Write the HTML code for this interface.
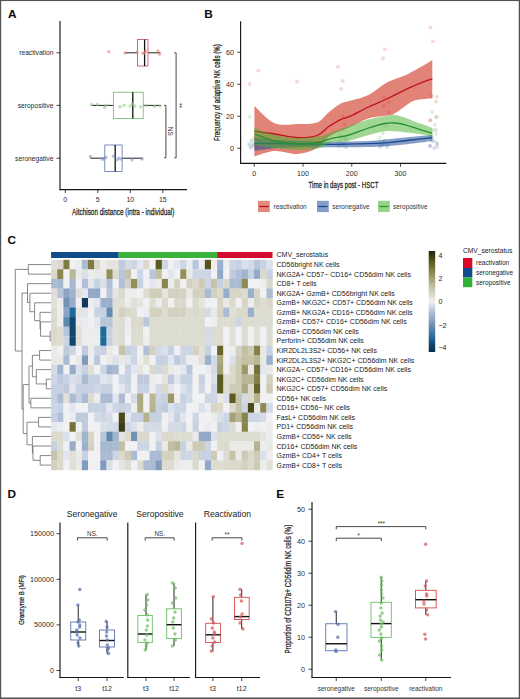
<!DOCTYPE html><html><head><meta charset="utf-8"><style>html,body{margin:0;padding:0;background:#fff}svg{display:block}text{font-family:"Liberation Sans", sans-serif}</style></head><body>
<svg width="520" height="699" viewBox="0 0 520 699">
<rect x="0" y="0" width="520" height="699" fill="#ffffff"/>
<text x="8.00" y="17.60" font-size="11.8" text-anchor="start" fill="#0a0a0a" font-weight="bold" >A</text>
<text x="204.20" y="17.60" font-size="11.8" text-anchor="start" fill="#0a0a0a" font-weight="bold" >B</text>
<text x="7.50" y="244.00" font-size="11.8" text-anchor="start" fill="#0a0a0a" font-weight="bold" >C</text>
<text x="7.50" y="498.00" font-size="11.8" text-anchor="start" fill="#0a0a0a" font-weight="bold" >D</text>
<text x="276.20" y="498.00" font-size="11.8" text-anchor="start" fill="#0a0a0a" font-weight="bold" >E</text>
<line x1="60" y1="21" x2="60" y2="190.1" stroke="#151515" stroke-width="1.15"/>
<line x1="59.5" y1="189.6" x2="187" y2="189.6" stroke="#151515" stroke-width="1.15"/>
<line x1="56.5" y1="52.8" x2="60" y2="52.8" stroke="#151515" stroke-width="0.8"/>
<text transform="translate(53.40,52.80)" x="0" y="2.38" font-size="6.7" text-anchor="end" fill="#2a2a2a" font-weight="normal">reactivation</text>
<line x1="56.5" y1="105.4" x2="60" y2="105.4" stroke="#151515" stroke-width="0.8"/>
<text transform="translate(53.40,105.40)" x="0" y="2.38" font-size="6.7" text-anchor="end" fill="#2a2a2a" font-weight="normal">seropositive</text>
<line x1="56.5" y1="158.2" x2="60" y2="158.2" stroke="#151515" stroke-width="0.8"/>
<text transform="translate(53.40,158.20)" x="0" y="2.38" font-size="6.7" text-anchor="end" fill="#2a2a2a" font-weight="normal">seronegative</text>
<line x1="65.30" y1="189.6" x2="65.30" y2="193" stroke="#151515" stroke-width="0.8"/>
<text transform="translate(65.30,199.70)" x="0" y="2.48" font-size="7.0" text-anchor="middle" fill="#2a2a2a" font-weight="normal">0</text>
<line x1="97.80" y1="189.6" x2="97.80" y2="193" stroke="#151515" stroke-width="0.8"/>
<text transform="translate(97.80,199.70)" x="0" y="2.48" font-size="7.0" text-anchor="middle" fill="#2a2a2a" font-weight="normal">5</text>
<line x1="130.30" y1="189.6" x2="130.30" y2="193" stroke="#151515" stroke-width="0.8"/>
<text transform="translate(130.30,199.70)" x="0" y="2.48" font-size="7.0" text-anchor="middle" fill="#2a2a2a" font-weight="normal">10</text>
<line x1="162.80" y1="189.6" x2="162.80" y2="193" stroke="#151515" stroke-width="0.8"/>
<text transform="translate(162.80,199.70)" x="0" y="2.48" font-size="7.0" text-anchor="middle" fill="#2a2a2a" font-weight="normal">15</text>
<text stroke="#1e1e1e" stroke-width="0.25" transform="translate(123.20,211.80) scale(0.7122,1)" x="0" y="3.19" font-size="9" text-anchor="middle" fill="#1e1e1e" font-weight="normal">Aitchison distance (intra - individual)</text>
<line x1="125" y1="52.8" x2="137.4" y2="52.8" stroke="#222" stroke-width="1"/>
<line x1="148" y1="52.8" x2="160.5" y2="52.8" stroke="#222" stroke-width="1"/>
<rect x="137.4" y="39.60" width="10.60" height="26.40" fill="none" stroke="#c8415a" stroke-width="0.8"/>
<line x1="144.6" y1="39.60" x2="144.6" y2="66.00" stroke="#111" stroke-width="1.3"/>
<circle cx="108.8" cy="51.75" r="1.7" fill="#e8857a" fill-opacity="0.6"/>
<circle cx="125" cy="52.98" r="1.7" fill="#e8857a" fill-opacity="0.6"/>
<circle cx="137" cy="52.28" r="1.7" fill="#e8857a" fill-opacity="0.6"/>
<circle cx="143" cy="53.22" r="1.7" fill="#e8857a" fill-opacity="0.6"/>
<circle cx="144.5" cy="53.30" r="1.7" fill="#e8857a" fill-opacity="0.6"/>
<circle cx="146" cy="51.06" r="1.7" fill="#e8857a" fill-opacity="0.6"/>
<circle cx="158" cy="50.85" r="1.7" fill="#e8857a" fill-opacity="0.6"/>
<circle cx="159.5" cy="54.15" r="1.7" fill="#e8857a" fill-opacity="0.6"/>
<line x1="91.2" y1="105.4" x2="113.5" y2="105.4" stroke="#222" stroke-width="1"/>
<line x1="143.2" y1="105.4" x2="161.0" y2="105.4" stroke="#222" stroke-width="1"/>
<rect x="113.5" y="92.20" width="29.70" height="26.40" fill="none" stroke="#6abf62" stroke-width="0.8"/>
<line x1="132.8" y1="92.20" x2="132.8" y2="118.60" stroke="#111" stroke-width="1.3"/>
<circle cx="91.5" cy="104.44" r="1.7" fill="#8fd07f" fill-opacity="0.6"/>
<circle cx="97.3" cy="104.34" r="1.7" fill="#8fd07f" fill-opacity="0.6"/>
<circle cx="104.6" cy="107.38" r="1.7" fill="#8fd07f" fill-opacity="0.6"/>
<circle cx="106" cy="105.28" r="1.7" fill="#8fd07f" fill-opacity="0.6"/>
<circle cx="120" cy="106.75" r="1.7" fill="#8fd07f" fill-opacity="0.6"/>
<circle cx="124" cy="105.31" r="1.7" fill="#8fd07f" fill-opacity="0.6"/>
<circle cx="130" cy="105.96" r="1.7" fill="#8fd07f" fill-opacity="0.6"/>
<circle cx="132.4" cy="104.00" r="1.7" fill="#8fd07f" fill-opacity="0.6"/>
<circle cx="134.8" cy="105.94" r="1.7" fill="#8fd07f" fill-opacity="0.6"/>
<circle cx="140.5" cy="106.87" r="1.7" fill="#8fd07f" fill-opacity="0.6"/>
<circle cx="146.3" cy="105.49" r="1.7" fill="#8fd07f" fill-opacity="0.6"/>
<circle cx="154.4" cy="106.37" r="1.7" fill="#8fd07f" fill-opacity="0.6"/>
<circle cx="160.2" cy="106.09" r="1.7" fill="#8fd07f" fill-opacity="0.6"/>
<line x1="90.4" y1="158.2" x2="104.8" y2="158.2" stroke="#222" stroke-width="1"/>
<line x1="122.1" y1="158.2" x2="142.9" y2="158.2" stroke="#222" stroke-width="1"/>
<rect x="104.8" y="145.00" width="17.30" height="26.40" fill="none" stroke="#5a74ad" stroke-width="0.8"/>
<line x1="115.2" y1="145.00" x2="115.2" y2="171.40" stroke="#111" stroke-width="1.3"/>
<circle cx="90.5" cy="156.46" r="1.7" fill="#8393c4" fill-opacity="0.6"/>
<circle cx="102.5" cy="159.23" r="1.7" fill="#8393c4" fill-opacity="0.6"/>
<circle cx="104" cy="158.56" r="1.7" fill="#8393c4" fill-opacity="0.6"/>
<circle cx="106" cy="157.41" r="1.7" fill="#8393c4" fill-opacity="0.6"/>
<circle cx="113.5" cy="156.32" r="1.7" fill="#8393c4" fill-opacity="0.6"/>
<circle cx="117" cy="159.66" r="1.7" fill="#8393c4" fill-opacity="0.6"/>
<circle cx="119" cy="158.09" r="1.7" fill="#8393c4" fill-opacity="0.6"/>
<circle cx="121" cy="159.08" r="1.7" fill="#8393c4" fill-opacity="0.6"/>
<circle cx="132" cy="159.72" r="1.7" fill="#8393c4" fill-opacity="0.6"/>
<circle cx="142" cy="159.06" r="1.7" fill="#8393c4" fill-opacity="0.6"/>
<path d="M174.4,52.8 H176.1 V157.8 H174.4" fill="none" stroke="#333" stroke-width="0.9"/>
<path d="M164.1,105.4 H165.9 V157.8 H164.1" fill="none" stroke="#333" stroke-width="0.9"/>
<text transform="translate(179.80,105.60) rotate(90)" x="0" y="2.31" font-size="6.5" text-anchor="middle" fill="#333" font-weight="normal">**</text>
<text transform="translate(170.30,131.20) rotate(90)" x="0" y="2.31" font-size="6.5" text-anchor="middle" fill="#333" font-weight="normal">NS</text>
<line x1="240.6" y1="21.3" x2="240.6" y2="163.8" stroke="#151515" stroke-width="1.15"/>
<line x1="240.1" y1="163.3" x2="446.3" y2="163.3" stroke="#151515" stroke-width="1.15"/>
<line x1="237.2" y1="148.25" x2="240.6" y2="148.25" stroke="#151515" stroke-width="0.8"/>
<text transform="translate(234.00,148.25)" x="0" y="2.52" font-size="7.1" text-anchor="end" fill="#2a2a2a" font-weight="normal">0</text>
<line x1="237.2" y1="116.25" x2="240.6" y2="116.25" stroke="#151515" stroke-width="0.8"/>
<text transform="translate(234.00,116.25)" x="0" y="2.52" font-size="7.1" text-anchor="end" fill="#2a2a2a" font-weight="normal">20</text>
<line x1="237.2" y1="84.25" x2="240.6" y2="84.25" stroke="#151515" stroke-width="0.8"/>
<text transform="translate(234.00,84.25)" x="0" y="2.52" font-size="7.1" text-anchor="end" fill="#2a2a2a" font-weight="normal">40</text>
<line x1="237.2" y1="52.25" x2="240.6" y2="52.25" stroke="#151515" stroke-width="0.8"/>
<text transform="translate(234.00,52.25)" x="0" y="2.52" font-size="7.1" text-anchor="end" fill="#2a2a2a" font-weight="normal">60</text>
<line x1="254.25" y1="163.3" x2="254.25" y2="166.7" stroke="#151515" stroke-width="0.8"/>
<text transform="translate(254.25,173.40)" x="0" y="2.52" font-size="7.1" text-anchor="middle" fill="#2a2a2a" font-weight="normal">0</text>
<line x1="303.00" y1="163.3" x2="303.00" y2="166.7" stroke="#151515" stroke-width="0.8"/>
<text transform="translate(303.00,173.40)" x="0" y="2.52" font-size="7.1" text-anchor="middle" fill="#2a2a2a" font-weight="normal">100</text>
<line x1="351.75" y1="163.3" x2="351.75" y2="166.7" stroke="#151515" stroke-width="0.8"/>
<text transform="translate(351.75,173.40)" x="0" y="2.52" font-size="7.1" text-anchor="middle" fill="#2a2a2a" font-weight="normal">200</text>
<line x1="400.50" y1="163.3" x2="400.50" y2="166.7" stroke="#151515" stroke-width="0.8"/>
<text transform="translate(400.50,173.40)" x="0" y="2.52" font-size="7.1" text-anchor="middle" fill="#2a2a2a" font-weight="normal">300</text>
<text stroke="#1e1e1e" stroke-width="0.25" transform="translate(343.50,185.10) scale(0.6817,1)" x="0" y="3.19" font-size="9" text-anchor="middle" fill="#1e1e1e" font-weight="normal">Time in days post - HSCT</text>
<text stroke="#1e1e1e" stroke-width="0.25" transform="translate(217.10,92.60) rotate(-90) scale(0.6877,1)" x="0" y="3.19" font-size="9" text-anchor="middle" fill="#1e1e1e" font-weight="normal">Frequency of adaptive NK cells (%)</text>
<circle cx="258.3" cy="70.6" r="1.9" fill="#d9605a" fill-opacity="0.25"/>
<circle cx="249.6" cy="84" r="1.9" fill="#d9605a" fill-opacity="0.25"/>
<circle cx="297" cy="81.5" r="1.9" fill="#d9605a" fill-opacity="0.25"/>
<circle cx="338" cy="66.7" r="1.9" fill="#d9605a" fill-opacity="0.25"/>
<circle cx="342.8" cy="81" r="1.9" fill="#d9605a" fill-opacity="0.25"/>
<circle cx="341" cy="88.8" r="1.9" fill="#d9605a" fill-opacity="0.25"/>
<circle cx="384.8" cy="49.3" r="1.9" fill="#d9605a" fill-opacity="0.25"/>
<circle cx="383" cy="58.5" r="1.9" fill="#d9605a" fill-opacity="0.25"/>
<circle cx="430.5" cy="27.4" r="1.9" fill="#d9605a" fill-opacity="0.25"/>
<circle cx="433" cy="41.3" r="1.9" fill="#d9605a" fill-opacity="0.25"/>
<circle cx="437" cy="96.8" r="1.9" fill="#d9605a" fill-opacity="0.25"/>
<circle cx="436" cy="101.6" r="1.9" fill="#d9605a" fill-opacity="0.25"/>
<circle cx="388.5" cy="102.3" r="1.9" fill="#d9605a" fill-opacity="0.25"/>
<circle cx="383.7" cy="106" r="1.9" fill="#d9605a" fill-opacity="0.25"/>
<circle cx="344.6" cy="124.2" r="1.9" fill="#d9605a" fill-opacity="0.25"/>
<circle cx="343" cy="129.7" r="1.9" fill="#d9605a" fill-opacity="0.25"/>
<circle cx="430.5" cy="120.6" r="1.9" fill="#d9605a" fill-opacity="0.25"/>
<circle cx="436" cy="117" r="1.9" fill="#d9605a" fill-opacity="0.25"/>
<circle cx="432" cy="96" r="1.9" fill="#d9605a" fill-opacity="0.25"/>
<circle cx="296" cy="137" r="1.9" fill="#d9605a" fill-opacity="0.25"/>
<circle cx="343" cy="116" r="1.9" fill="#d9605a" fill-opacity="0.25"/>
<circle cx="389" cy="112" r="1.9" fill="#d9605a" fill-opacity="0.25"/>
<circle cx="384" cy="97" r="1.9" fill="#d9605a" fill-opacity="0.25"/>
<circle cx="249.6" cy="116.7" r="1.9" fill="#78c070" fill-opacity="0.25"/>
<circle cx="252" cy="140" r="1.9" fill="#78c070" fill-opacity="0.25"/>
<circle cx="256" cy="143" r="1.9" fill="#78c070" fill-opacity="0.25"/>
<circle cx="250" cy="146" r="1.9" fill="#78c070" fill-opacity="0.25"/>
<circle cx="340" cy="135" r="1.9" fill="#78c070" fill-opacity="0.25"/>
<circle cx="345" cy="139" r="1.9" fill="#78c070" fill-opacity="0.25"/>
<circle cx="338" cy="142" r="1.9" fill="#78c070" fill-opacity="0.25"/>
<circle cx="386" cy="126" r="1.9" fill="#78c070" fill-opacity="0.25"/>
<circle cx="383" cy="133" r="1.9" fill="#78c070" fill-opacity="0.25"/>
<circle cx="380" cy="138" r="1.9" fill="#78c070" fill-opacity="0.25"/>
<circle cx="433" cy="130" r="1.9" fill="#78c070" fill-opacity="0.25"/>
<circle cx="436" cy="134" r="1.9" fill="#78c070" fill-opacity="0.25"/>
<circle cx="430" cy="138" r="1.9" fill="#78c070" fill-opacity="0.25"/>
<circle cx="437" cy="143" r="1.9" fill="#78c070" fill-opacity="0.25"/>
<circle cx="384" cy="145" r="1.9" fill="#78c070" fill-opacity="0.25"/>
<circle cx="343" cy="146" r="1.9" fill="#78c070" fill-opacity="0.25"/>
<circle cx="255" cy="137" r="1.9" fill="#78c070" fill-opacity="0.25"/>
<circle cx="435" cy="125" r="1.9" fill="#78c070" fill-opacity="0.25"/>
<circle cx="432" cy="112" r="1.9" fill="#78c070" fill-opacity="0.25"/>
<circle cx="253" cy="144" r="1.9" fill="#6680b0" fill-opacity="0.25"/>
<circle cx="251" cy="148" r="1.9" fill="#6680b0" fill-opacity="0.25"/>
<circle cx="256" cy="146.5" r="1.9" fill="#6680b0" fill-opacity="0.25"/>
<circle cx="342" cy="144" r="1.9" fill="#6680b0" fill-opacity="0.25"/>
<circle cx="339" cy="146" r="1.9" fill="#6680b0" fill-opacity="0.25"/>
<circle cx="346" cy="147" r="1.9" fill="#6680b0" fill-opacity="0.25"/>
<circle cx="382" cy="145" r="1.9" fill="#6680b0" fill-opacity="0.25"/>
<circle cx="387" cy="147" r="1.9" fill="#6680b0" fill-opacity="0.25"/>
<circle cx="380" cy="144" r="1.9" fill="#6680b0" fill-opacity="0.25"/>
<circle cx="432" cy="141" r="1.9" fill="#6680b0" fill-opacity="0.25"/>
<circle cx="437" cy="144" r="1.9" fill="#6680b0" fill-opacity="0.25"/>
<circle cx="430" cy="146" r="1.9" fill="#6680b0" fill-opacity="0.25"/>
<circle cx="434" cy="148" r="1.9" fill="#6680b0" fill-opacity="0.25"/>
<circle cx="300" cy="143" r="1.9" fill="#6680b0" fill-opacity="0.25"/>
<circle cx="436" cy="130" r="1.9" fill="#6680b0" fill-opacity="0.25"/>
<circle cx="437" cy="117" r="1.9" fill="#78c070" fill-opacity="0.25"/>
<circle cx="430" cy="120" r="1.9" fill="#d9605a" fill-opacity="0.25"/>
<circle cx="432" cy="137" r="1.9" fill="#6680b0" fill-opacity="0.25"/>
<circle cx="434" cy="141" r="1.9" fill="#6680b0" fill-opacity="0.25"/>
<circle cx="430" cy="146" r="1.9" fill="#6680b0" fill-opacity="0.25"/>
<circle cx="437" cy="147" r="1.9" fill="#6680b0" fill-opacity="0.25"/>
<circle cx="251" cy="141" r="1.9" fill="#78c070" fill-opacity="0.25"/>
<circle cx="253" cy="146" r="1.9" fill="#6680b0" fill-opacity="0.25"/>
<circle cx="255" cy="139" r="1.9" fill="#78c070" fill-opacity="0.25"/>
<circle cx="249" cy="144" r="1.9" fill="#6680b0" fill-opacity="0.25"/>
<circle cx="341" cy="141" r="1.9" fill="#6680b0" fill-opacity="0.25"/>
<circle cx="345" cy="143" r="1.9" fill="#6680b0" fill-opacity="0.25"/>
<circle cx="347" cy="140" r="1.9" fill="#78c070" fill-opacity="0.25"/>
<circle cx="384" cy="141" r="1.9" fill="#6680b0" fill-opacity="0.25"/>
<circle cx="388" cy="145" r="1.9" fill="#6680b0" fill-opacity="0.25"/>
<circle cx="380" cy="147" r="1.9" fill="#6680b0" fill-opacity="0.25"/>
<path d="M254.40,106.00 C257.77,108.87 267.38,120.20 274.60,123.20 C281.82,126.20 290.63,124.12 297.70,124.00 C304.77,123.88 311.95,124.33 317.00,122.50 C322.05,120.67 324.17,116.08 328.00,113.00 C331.83,109.92 336.50,106.00 340.00,104.00 C343.50,102.00 344.25,102.50 349.00,101.00 C353.75,99.50 362.05,98.17 368.50,95.00 C374.95,91.83 381.28,85.43 387.70,82.00 C394.12,78.57 400.62,77.40 407.00,74.40 C413.38,71.40 421.78,66.40 426.00,64.00 C430.22,61.60 431.25,60.67 432.30,60.00 L432.30,98.20 C429.42,98.55 419.55,98.95 415.00,100.30 C410.45,101.65 408.33,104.15 405.00,106.30 C401.67,108.45 397.88,111.67 395.00,113.20 C392.12,114.73 392.12,114.62 387.70,115.50 C383.28,116.38 374.95,116.50 368.50,118.50 C362.05,120.50 355.42,124.58 349.00,127.50 C342.58,130.42 335.33,132.58 330.00,136.00 C324.67,139.42 322.38,145.00 317.00,148.00 C311.62,151.00 304.77,153.50 297.70,154.00 C290.63,154.50 281.82,150.58 274.60,151.00 C267.38,151.42 257.77,155.58 254.40,156.50 Z" fill="#cc2a15" fill-opacity="0.58"/>
<path d="M254.40,131.20 C257.77,131.67 267.38,132.93 274.60,134.00 C281.82,135.07 290.63,137.35 297.70,137.60 C304.77,137.85 311.87,137.30 317.00,135.50 C322.13,133.70 324.67,129.42 328.50,126.80 C332.33,124.18 336.58,121.48 340.00,119.80 C343.42,118.12 344.25,118.83 349.00,116.70 C353.75,114.57 362.05,110.03 368.50,107.00 C374.95,103.97 381.28,101.53 387.70,98.50 C394.12,95.47 400.62,91.75 407.00,88.80 C413.38,85.85 421.78,82.47 426.00,80.80 C430.22,79.13 431.25,79.13 432.30,78.80" fill="none" stroke="#c0121c" stroke-width="1.3"/>
<path d="M254.40,137.50 C257.83,137.92 267.40,139.42 275.00,140.00 C282.60,140.58 290.83,140.70 300.00,141.00 C309.17,141.30 318.58,141.80 330.00,141.80 C341.42,141.80 357.67,141.53 368.50,141.00 C379.33,140.47 384.37,139.63 395.00,138.60 C405.63,137.57 426.08,135.43 432.30,134.80 L432.30,141.00 C426.08,141.75 405.63,144.50 395.00,145.50 C384.37,146.50 379.33,146.70 368.50,147.00 C357.67,147.30 341.42,147.30 330.00,147.30 C318.58,147.30 309.17,146.83 300.00,147.00 C290.83,147.17 282.60,147.63 275.00,148.30 C267.40,148.97 257.83,150.55 254.40,151.00 Z" fill="#1f4e9c" fill-opacity="0.55"/>
<path d="M254.40,143.30 C262.00,143.38 287.40,143.62 300.00,143.80 C312.60,143.98 318.58,144.42 330.00,144.40 C341.42,144.38 358.88,143.98 368.50,143.70 C378.12,143.42 383.28,142.98 387.70,142.70 C392.12,142.42 391.78,142.37 395.00,142.00 C398.22,141.63 400.78,141.23 407.00,140.50 C413.22,139.77 428.08,138.08 432.30,137.60" fill="none" stroke="#1d4a8e" stroke-width="1.3"/>
<path d="M254.40,127.70 C257.83,128.92 267.40,133.28 275.00,135.00 C282.60,136.72 292.50,137.83 300.00,138.00 C307.50,138.17 315.00,136.83 320.00,136.00 C325.00,135.17 325.17,134.67 330.00,133.00 C334.83,131.33 342.58,128.23 349.00,126.00 C355.42,123.77 362.05,121.30 368.50,119.60 C374.95,117.90 383.28,116.58 387.70,115.80 C392.12,115.02 392.12,114.62 395.00,114.90 C397.88,115.18 401.67,116.35 405.00,117.50 C408.33,118.65 411.67,120.52 415.00,121.80 C418.33,123.08 422.12,124.17 425.00,125.20 C427.88,126.23 431.08,127.53 432.30,128.00 L432.30,136.00 C428.08,135.42 414.43,133.33 407.00,132.50 C399.57,131.67 394.12,130.58 387.70,131.00 C381.28,131.42 374.95,133.37 368.50,135.00 C362.05,136.63 355.42,139.52 349.00,140.80 C342.58,142.08 334.83,141.50 330.00,142.70 C325.17,143.90 325.00,146.78 320.00,148.00 C315.00,149.22 307.50,150.00 300.00,150.00 C292.50,150.00 282.60,148.83 275.00,148.00 C267.40,147.17 257.83,145.50 254.40,145.00 Z" fill="#44b02a" fill-opacity="0.5"/>
<path d="M254.40,134.00 C257.83,135.17 267.40,139.33 275.00,141.00 C282.60,142.67 292.50,143.83 300.00,144.00 C307.50,144.17 315.00,142.87 320.00,142.00 C325.00,141.13 325.17,139.97 330.00,138.80 C334.83,137.63 342.58,136.80 349.00,135.00 C355.42,133.20 362.57,129.92 368.50,128.00 C374.43,126.08 380.18,124.33 384.60,123.50 C389.02,122.67 391.60,122.78 395.00,123.00 C398.40,123.22 401.67,124.00 405.00,124.80 C408.33,125.60 411.67,126.73 415.00,127.80 C418.33,128.87 422.12,130.28 425.00,131.20 C427.88,132.12 431.08,132.95 432.30,133.30" fill="none" stroke="#2a9030" stroke-width="1.3"/>
<rect x="258" y="200.8" width="11.8" height="11.3" fill="#cc2a15" fill-opacity="0.55"/>
<line x1="259.2" y1="206.5" x2="268.6" y2="206.5" stroke="#c0121c" stroke-width="1.3"/>
<text transform="translate(273.50,206.60)" x="0" y="2.31" font-size="6.5" text-anchor="start" fill="#333" font-weight="normal">reactivation</text>
<rect x="317" y="200.8" width="11.8" height="11.3" fill="#1f4e9c" fill-opacity="0.55"/>
<line x1="318.2" y1="206.5" x2="327.6" y2="206.5" stroke="#1d4a8e" stroke-width="1.3"/>
<text transform="translate(332.30,206.60)" x="0" y="2.31" font-size="6.5" text-anchor="start" fill="#333" font-weight="normal">seronegative</text>
<rect x="378" y="200.8" width="11.8" height="11.3" fill="#44b02a" fill-opacity="0.55"/>
<line x1="379.2" y1="206.5" x2="388.6" y2="206.5" stroke="#279a27" stroke-width="1.3"/>
<text transform="translate(393.00,206.60)" x="0" y="2.31" font-size="6.5" text-anchor="start" fill="#333" font-weight="normal">seropositive</text>
<rect x="51.10" y="259.80" width="6.45" height="9.85" fill="#e1e0d8"/>
<rect x="57.25" y="259.80" width="6.45" height="9.85" fill="#dad9cc"/>
<rect x="63.40" y="259.80" width="6.45" height="9.85" fill="#7f7c42"/>
<rect x="69.55" y="259.80" width="6.45" height="9.85" fill="#f1f1f4"/>
<rect x="75.70" y="259.80" width="6.45" height="9.85" fill="#eaecf1"/>
<rect x="81.85" y="259.80" width="6.45" height="9.85" fill="#aabbd3"/>
<rect x="88.00" y="259.80" width="6.45" height="9.85" fill="#7f7c42"/>
<rect x="94.15" y="259.80" width="6.45" height="9.85" fill="#dad9cc"/>
<rect x="100.30" y="259.80" width="6.45" height="9.85" fill="#ededed"/>
<rect x="106.45" y="259.80" width="6.45" height="9.85" fill="#e5e4df"/>
<rect x="112.60" y="259.80" width="6.45" height="9.85" fill="#e5e4df"/>
<rect x="118.75" y="259.80" width="6.45" height="9.85" fill="#bfcbdd"/>
<rect x="124.90" y="259.80" width="6.45" height="9.85" fill="#d4dbe7"/>
<rect x="131.05" y="259.80" width="6.45" height="9.85" fill="#cdd6e4"/>
<rect x="137.20" y="259.80" width="6.45" height="9.85" fill="#e3e6ee"/>
<rect x="143.35" y="259.80" width="6.45" height="9.85" fill="#dad9cc"/>
<rect x="149.50" y="259.80" width="6.45" height="9.85" fill="#f1f1f4"/>
<rect x="155.65" y="259.80" width="6.45" height="9.85" fill="#5c5a1e"/>
<rect x="161.80" y="259.80" width="6.45" height="9.85" fill="#cdd6e4"/>
<rect x="167.95" y="259.80" width="6.45" height="9.85" fill="#f1f1f4"/>
<rect x="174.10" y="259.80" width="6.45" height="9.85" fill="#e3e6ee"/>
<rect x="180.25" y="259.80" width="6.45" height="9.85" fill="#cdd6e4"/>
<rect x="186.40" y="259.80" width="6.45" height="9.85" fill="#ededed"/>
<rect x="192.55" y="259.80" width="6.45" height="9.85" fill="#b8c6da"/>
<rect x="198.70" y="259.80" width="6.45" height="9.85" fill="#ededed"/>
<rect x="204.85" y="259.80" width="6.45" height="9.85" fill="#55541c"/>
<rect x="211.00" y="259.80" width="6.45" height="9.85" fill="#ededed"/>
<rect x="217.15" y="259.80" width="6.45" height="9.85" fill="#9bb0cc"/>
<rect x="223.30" y="259.80" width="6.45" height="9.85" fill="#ededed"/>
<rect x="229.45" y="259.80" width="6.45" height="9.85" fill="#cdd6e4"/>
<rect x="235.60" y="259.80" width="6.45" height="9.85" fill="#c6d1e1"/>
<rect x="241.75" y="259.80" width="6.45" height="9.85" fill="#dbe1ea"/>
<rect x="247.90" y="259.80" width="6.45" height="9.85" fill="#d4dbe7"/>
<rect x="254.05" y="259.80" width="6.45" height="9.85" fill="#b8c6da"/>
<rect x="260.20" y="259.80" width="6.45" height="9.85" fill="#c6d1e1"/>
<rect x="266.35" y="259.80" width="6.45" height="9.85" fill="#dbe1ea"/>
<rect x="51.10" y="269.35" width="6.45" height="9.85" fill="#dad9cc"/>
<rect x="57.25" y="269.35" width="6.45" height="9.85" fill="#89864d"/>
<rect x="63.40" y="269.35" width="6.45" height="9.85" fill="#f1f1f4"/>
<rect x="69.55" y="269.35" width="6.45" height="9.85" fill="#bab796"/>
<rect x="75.70" y="269.35" width="6.45" height="9.85" fill="#e9e9e6"/>
<rect x="81.85" y="269.35" width="6.45" height="9.85" fill="#dbe1ea"/>
<rect x="88.00" y="269.35" width="6.45" height="9.85" fill="#ededed"/>
<rect x="94.15" y="269.35" width="6.45" height="9.85" fill="#e9e9e6"/>
<rect x="100.30" y="269.35" width="6.45" height="9.85" fill="#e9e9e6"/>
<rect x="106.45" y="269.35" width="6.45" height="9.85" fill="#928f59"/>
<rect x="112.60" y="269.35" width="6.45" height="9.85" fill="#dddcd1"/>
<rect x="118.75" y="269.35" width="6.45" height="9.85" fill="#b8c6da"/>
<rect x="124.90" y="269.35" width="6.45" height="9.85" fill="#c5c3a9"/>
<rect x="131.05" y="269.35" width="6.45" height="9.85" fill="#f1f1f4"/>
<rect x="137.20" y="269.35" width="6.45" height="9.85" fill="#cdd6e4"/>
<rect x="143.35" y="269.35" width="6.45" height="9.85" fill="#f1f1f4"/>
<rect x="149.50" y="269.35" width="6.45" height="9.85" fill="#b8c6da"/>
<rect x="155.65" y="269.35" width="6.45" height="9.85" fill="#c2bfa3"/>
<rect x="161.80" y="269.35" width="6.45" height="9.85" fill="#f1f1f4"/>
<rect x="167.95" y="269.35" width="6.45" height="9.85" fill="#e3e6ee"/>
<rect x="174.10" y="269.35" width="6.45" height="9.85" fill="#f1f1f4"/>
<rect x="180.25" y="269.35" width="6.45" height="9.85" fill="#928f59"/>
<rect x="186.40" y="269.35" width="6.45" height="9.85" fill="#e9e9e6"/>
<rect x="192.55" y="269.35" width="6.45" height="9.85" fill="#cdd6e4"/>
<rect x="198.70" y="269.35" width="6.45" height="9.85" fill="#cdd6e4"/>
<rect x="204.85" y="269.35" width="6.45" height="9.85" fill="#cdd6e4"/>
<rect x="211.00" y="269.35" width="6.45" height="9.85" fill="#f1f1f4"/>
<rect x="217.15" y="269.35" width="6.45" height="9.85" fill="#91a8c8"/>
<rect x="223.30" y="269.35" width="6.45" height="9.85" fill="#f1f1f4"/>
<rect x="229.45" y="269.35" width="6.45" height="9.85" fill="#bfcbdd"/>
<rect x="235.60" y="269.35" width="6.45" height="9.85" fill="#b1c0d6"/>
<rect x="241.75" y="269.35" width="6.45" height="9.85" fill="#a0b3cf"/>
<rect x="247.90" y="269.35" width="6.45" height="9.85" fill="#c6d1e1"/>
<rect x="254.05" y="269.35" width="6.45" height="9.85" fill="#91a8c8"/>
<rect x="260.20" y="269.35" width="6.45" height="9.85" fill="#dad9cc"/>
<rect x="266.35" y="269.35" width="6.45" height="9.85" fill="#c6d1e1"/>
<rect x="51.10" y="278.90" width="6.45" height="9.85" fill="#aabbd3"/>
<rect x="57.25" y="278.90" width="6.45" height="9.85" fill="#a5b7d1"/>
<rect x="63.40" y="278.90" width="6.45" height="9.85" fill="#f1f1f4"/>
<rect x="69.55" y="278.90" width="6.45" height="9.85" fill="#a5b7d1"/>
<rect x="75.70" y="278.90" width="6.45" height="9.85" fill="#f1f1f4"/>
<rect x="81.85" y="278.90" width="6.45" height="9.85" fill="#b1c0d6"/>
<rect x="88.00" y="278.90" width="6.45" height="9.85" fill="#e3e6ee"/>
<rect x="94.15" y="278.90" width="6.45" height="9.85" fill="#c6d1e1"/>
<rect x="100.30" y="278.90" width="6.45" height="9.85" fill="#dbe1ea"/>
<rect x="106.45" y="278.90" width="6.45" height="9.85" fill="#b1c0d6"/>
<rect x="112.60" y="278.90" width="6.45" height="9.85" fill="#f1f1f4"/>
<rect x="118.75" y="278.90" width="6.45" height="9.85" fill="#b1c0d6"/>
<rect x="124.90" y="278.90" width="6.45" height="9.85" fill="#d3d2c1"/>
<rect x="131.05" y="278.90" width="6.45" height="9.85" fill="#928f59"/>
<rect x="137.20" y="278.90" width="6.45" height="9.85" fill="#c6d1e1"/>
<rect x="143.35" y="278.90" width="6.45" height="9.85" fill="#f1f1f4"/>
<rect x="149.50" y="278.90" width="6.45" height="9.85" fill="#e3e6ee"/>
<rect x="155.65" y="278.90" width="6.45" height="9.85" fill="#ededed"/>
<rect x="161.80" y="278.90" width="6.45" height="9.85" fill="#89864d"/>
<rect x="167.95" y="278.90" width="6.45" height="9.85" fill="#ededed"/>
<rect x="174.10" y="278.90" width="6.45" height="9.85" fill="#d3d2c1"/>
<rect x="180.25" y="278.90" width="6.45" height="9.85" fill="#f1f1f4"/>
<rect x="186.40" y="278.90" width="6.45" height="9.85" fill="#d3d2c1"/>
<rect x="192.55" y="278.90" width="6.45" height="9.85" fill="#dad9cc"/>
<rect x="198.70" y="278.90" width="6.45" height="9.85" fill="#cdcbb6"/>
<rect x="204.85" y="278.90" width="6.45" height="9.85" fill="#cdd6e4"/>
<rect x="211.00" y="278.90" width="6.45" height="9.85" fill="#c5c3a9"/>
<rect x="217.15" y="278.90" width="6.45" height="9.85" fill="#c6d1e1"/>
<rect x="223.30" y="278.90" width="6.45" height="9.85" fill="#dad9cc"/>
<rect x="229.45" y="278.90" width="6.45" height="9.85" fill="#aabbd3"/>
<rect x="235.60" y="278.90" width="6.45" height="9.85" fill="#aabbd3"/>
<rect x="241.75" y="278.90" width="6.45" height="9.85" fill="#8e8b52"/>
<rect x="247.90" y="278.90" width="6.45" height="9.85" fill="#f1f1f4"/>
<rect x="254.05" y="278.90" width="6.45" height="9.85" fill="#f1f1f4"/>
<rect x="260.20" y="278.90" width="6.45" height="9.85" fill="#ededed"/>
<rect x="266.35" y="278.90" width="6.45" height="9.85" fill="#dad9cc"/>
<rect x="51.10" y="288.45" width="6.45" height="9.85" fill="#e1e0d8"/>
<rect x="57.25" y="288.45" width="6.45" height="9.85" fill="#b8c6da"/>
<rect x="63.40" y="288.45" width="6.45" height="9.85" fill="#8ba4c4"/>
<rect x="69.55" y="288.45" width="6.45" height="9.85" fill="#a0b3cf"/>
<rect x="75.70" y="288.45" width="6.45" height="9.85" fill="#e1e0d8"/>
<rect x="81.85" y="288.45" width="6.45" height="9.85" fill="#e3e6ee"/>
<rect x="88.00" y="288.45" width="6.45" height="9.85" fill="#91a8c8"/>
<rect x="94.15" y="288.45" width="6.45" height="9.85" fill="#91a8c8"/>
<rect x="100.30" y="288.45" width="6.45" height="9.85" fill="#f1f1f4"/>
<rect x="106.45" y="288.45" width="6.45" height="9.85" fill="#b8c6da"/>
<rect x="112.60" y="288.45" width="6.45" height="9.85" fill="#e5e4df"/>
<rect x="118.75" y="288.45" width="6.45" height="9.85" fill="#dad9cc"/>
<rect x="124.90" y="288.45" width="6.45" height="9.85" fill="#ededed"/>
<rect x="131.05" y="288.45" width="6.45" height="9.85" fill="#ededed"/>
<rect x="137.20" y="288.45" width="6.45" height="9.85" fill="#f1f1f4"/>
<rect x="143.35" y="288.45" width="6.45" height="9.85" fill="#dddcd1"/>
<rect x="149.50" y="288.45" width="6.45" height="9.85" fill="#d0cebb"/>
<rect x="155.65" y="288.45" width="6.45" height="9.85" fill="#d0cebb"/>
<rect x="161.80" y="288.45" width="6.45" height="9.85" fill="#e5e4df"/>
<rect x="167.95" y="288.45" width="6.45" height="9.85" fill="#d3d2c1"/>
<rect x="174.10" y="288.45" width="6.45" height="9.85" fill="#d3d2c1"/>
<rect x="180.25" y="288.45" width="6.45" height="9.85" fill="#d3d2c1"/>
<rect x="186.40" y="288.45" width="6.45" height="9.85" fill="#e9e9e6"/>
<rect x="192.55" y="288.45" width="6.45" height="9.85" fill="#d3d2c1"/>
<rect x="198.70" y="288.45" width="6.45" height="9.85" fill="#d3d2c1"/>
<rect x="204.85" y="288.45" width="6.45" height="9.85" fill="#aabbd3"/>
<rect x="211.00" y="288.45" width="6.45" height="9.85" fill="#d3d2c1"/>
<rect x="217.15" y="288.45" width="6.45" height="9.85" fill="#dad9cc"/>
<rect x="223.30" y="288.45" width="6.45" height="9.85" fill="#96acca"/>
<rect x="229.45" y="288.45" width="6.45" height="9.85" fill="#d7d5c6"/>
<rect x="235.60" y="288.45" width="6.45" height="9.85" fill="#d7d5c6"/>
<rect x="241.75" y="288.45" width="6.45" height="9.85" fill="#dddcd1"/>
<rect x="247.90" y="288.45" width="6.45" height="9.85" fill="#9bb0cc"/>
<rect x="254.05" y="288.45" width="6.45" height="9.85" fill="#d7d5c6"/>
<rect x="260.20" y="288.45" width="6.45" height="9.85" fill="#f1f1f4"/>
<rect x="266.35" y="288.45" width="6.45" height="9.85" fill="#aabbd3"/>
<rect x="51.10" y="298.00" width="6.45" height="9.85" fill="#e1e0d8"/>
<rect x="57.25" y="298.00" width="6.45" height="9.85" fill="#ededed"/>
<rect x="63.40" y="298.00" width="6.45" height="9.85" fill="#7492b6"/>
<rect x="69.55" y="298.00" width="6.45" height="9.85" fill="#96acca"/>
<rect x="75.70" y="298.00" width="6.45" height="9.85" fill="#f1f1f4"/>
<rect x="81.85" y="298.00" width="6.45" height="9.85" fill="#0e3a60"/>
<rect x="88.00" y="298.00" width="6.45" height="9.85" fill="#eaecf1"/>
<rect x="94.15" y="298.00" width="6.45" height="9.85" fill="#e3e6ee"/>
<rect x="100.30" y="298.00" width="6.45" height="9.85" fill="#9bb0cc"/>
<rect x="106.45" y="298.00" width="6.45" height="9.85" fill="#9bb0cc"/>
<rect x="112.60" y="298.00" width="6.45" height="9.85" fill="#e1e0d8"/>
<rect x="118.75" y="298.00" width="6.45" height="9.85" fill="#e1e0d8"/>
<rect x="124.90" y="298.00" width="6.45" height="9.85" fill="#ededed"/>
<rect x="131.05" y="298.00" width="6.45" height="9.85" fill="#e1e0d8"/>
<rect x="137.20" y="298.00" width="6.45" height="9.85" fill="#e5e4df"/>
<rect x="143.35" y="298.00" width="6.45" height="9.85" fill="#f1f1f4"/>
<rect x="149.50" y="298.00" width="6.45" height="9.85" fill="#dddcd1"/>
<rect x="155.65" y="298.00" width="6.45" height="9.85" fill="#ededed"/>
<rect x="161.80" y="298.00" width="6.45" height="9.85" fill="#dad9cc"/>
<rect x="167.95" y="298.00" width="6.45" height="9.85" fill="#f1f1f4"/>
<rect x="174.10" y="298.00" width="6.45" height="9.85" fill="#dad9cc"/>
<rect x="180.25" y="298.00" width="6.45" height="9.85" fill="#dad9cc"/>
<rect x="186.40" y="298.00" width="6.45" height="9.85" fill="#f1f1f4"/>
<rect x="192.55" y="298.00" width="6.45" height="9.85" fill="#dad9cc"/>
<rect x="198.70" y="298.00" width="6.45" height="9.85" fill="#e5e4df"/>
<rect x="204.85" y="298.00" width="6.45" height="9.85" fill="#f1f1f4"/>
<rect x="211.00" y="298.00" width="6.45" height="9.85" fill="#f1f1f4"/>
<rect x="217.15" y="298.00" width="6.45" height="9.85" fill="#d7d5c6"/>
<rect x="223.30" y="298.00" width="6.45" height="9.85" fill="#e9e9e6"/>
<rect x="229.45" y="298.00" width="6.45" height="9.85" fill="#dad9cc"/>
<rect x="235.60" y="298.00" width="6.45" height="9.85" fill="#f1f1f4"/>
<rect x="241.75" y="298.00" width="6.45" height="9.85" fill="#d7d5c6"/>
<rect x="247.90" y="298.00" width="6.45" height="9.85" fill="#ededed"/>
<rect x="254.05" y="298.00" width="6.45" height="9.85" fill="#d7d5c6"/>
<rect x="260.20" y="298.00" width="6.45" height="9.85" fill="#dddcd1"/>
<rect x="266.35" y="298.00" width="6.45" height="9.85" fill="#d7d5c6"/>
<rect x="51.10" y="307.55" width="6.45" height="9.85" fill="#dddcd1"/>
<rect x="57.25" y="307.55" width="6.45" height="9.85" fill="#ededed"/>
<rect x="63.40" y="307.55" width="6.45" height="9.85" fill="#8ba4c4"/>
<rect x="69.55" y="307.55" width="6.45" height="9.85" fill="#1f6a9a"/>
<rect x="75.70" y="307.55" width="6.45" height="9.85" fill="#e5e4df"/>
<rect x="81.85" y="307.55" width="6.45" height="9.85" fill="#e3e6ee"/>
<rect x="88.00" y="307.55" width="6.45" height="9.85" fill="#f1f1f4"/>
<rect x="94.15" y="307.55" width="6.45" height="9.85" fill="#c6d1e1"/>
<rect x="100.30" y="307.55" width="6.45" height="9.85" fill="#c6d1e1"/>
<rect x="106.45" y="307.55" width="6.45" height="9.85" fill="#668bb1"/>
<rect x="112.60" y="307.55" width="6.45" height="9.85" fill="#e1e0d8"/>
<rect x="118.75" y="307.55" width="6.45" height="9.85" fill="#d3d2c1"/>
<rect x="124.90" y="307.55" width="6.45" height="9.85" fill="#dad9cc"/>
<rect x="131.05" y="307.55" width="6.45" height="9.85" fill="#dddcd1"/>
<rect x="137.20" y="307.55" width="6.45" height="9.85" fill="#f1f1f4"/>
<rect x="143.35" y="307.55" width="6.45" height="9.85" fill="#eaecf1"/>
<rect x="149.50" y="307.55" width="6.45" height="9.85" fill="#d3d2c1"/>
<rect x="155.65" y="307.55" width="6.45" height="9.85" fill="#d3d2c1"/>
<rect x="161.80" y="307.55" width="6.45" height="9.85" fill="#dddcd1"/>
<rect x="167.95" y="307.55" width="6.45" height="9.85" fill="#d3d2c1"/>
<rect x="174.10" y="307.55" width="6.45" height="9.85" fill="#d3d2c1"/>
<rect x="180.25" y="307.55" width="6.45" height="9.85" fill="#d3d2c1"/>
<rect x="186.40" y="307.55" width="6.45" height="9.85" fill="#dddcd1"/>
<rect x="192.55" y="307.55" width="6.45" height="9.85" fill="#dad9cc"/>
<rect x="198.70" y="307.55" width="6.45" height="9.85" fill="#dddcd1"/>
<rect x="204.85" y="307.55" width="6.45" height="9.85" fill="#d4dbe7"/>
<rect x="211.00" y="307.55" width="6.45" height="9.85" fill="#e9e9e6"/>
<rect x="217.15" y="307.55" width="6.45" height="9.85" fill="#d7d5c6"/>
<rect x="223.30" y="307.55" width="6.45" height="9.85" fill="#aabbd3"/>
<rect x="229.45" y="307.55" width="6.45" height="9.85" fill="#e1e0d8"/>
<rect x="235.60" y="307.55" width="6.45" height="9.85" fill="#dad9cc"/>
<rect x="241.75" y="307.55" width="6.45" height="9.85" fill="#dad9cc"/>
<rect x="247.90" y="307.55" width="6.45" height="9.85" fill="#9bb0cc"/>
<rect x="254.05" y="307.55" width="6.45" height="9.85" fill="#dddcd1"/>
<rect x="260.20" y="307.55" width="6.45" height="9.85" fill="#dddcd1"/>
<rect x="266.35" y="307.55" width="6.45" height="9.85" fill="#dddcd1"/>
<rect x="51.10" y="317.10" width="6.45" height="9.85" fill="#dddcd1"/>
<rect x="57.25" y="317.10" width="6.45" height="9.85" fill="#ededed"/>
<rect x="63.40" y="317.10" width="6.45" height="9.85" fill="#5f88af"/>
<rect x="69.55" y="317.10" width="6.45" height="9.85" fill="#12466f"/>
<rect x="75.70" y="317.10" width="6.45" height="9.85" fill="#e9e9e6"/>
<rect x="81.85" y="317.10" width="6.45" height="9.85" fill="#eaecf1"/>
<rect x="88.00" y="317.10" width="6.45" height="9.85" fill="#f1f1f4"/>
<rect x="94.15" y="317.10" width="6.45" height="9.85" fill="#e3e6ee"/>
<rect x="100.30" y="317.10" width="6.45" height="9.85" fill="#b8c6da"/>
<rect x="106.45" y="317.10" width="6.45" height="9.85" fill="#b8c6da"/>
<rect x="112.60" y="317.10" width="6.45" height="9.85" fill="#e1e0d8"/>
<rect x="118.75" y="317.10" width="6.45" height="9.85" fill="#dddcd1"/>
<rect x="124.90" y="317.10" width="6.45" height="9.85" fill="#ededed"/>
<rect x="131.05" y="317.10" width="6.45" height="9.85" fill="#dad9cc"/>
<rect x="137.20" y="317.10" width="6.45" height="9.85" fill="#dad9cc"/>
<rect x="143.35" y="317.10" width="6.45" height="9.85" fill="#b8c6da"/>
<rect x="149.50" y="317.10" width="6.45" height="9.85" fill="#dddcd1"/>
<rect x="155.65" y="317.10" width="6.45" height="9.85" fill="#dddcd1"/>
<rect x="161.80" y="317.10" width="6.45" height="9.85" fill="#dddcd1"/>
<rect x="167.95" y="317.10" width="6.45" height="9.85" fill="#dddcd1"/>
<rect x="174.10" y="317.10" width="6.45" height="9.85" fill="#dddcd1"/>
<rect x="180.25" y="317.10" width="6.45" height="9.85" fill="#dddcd1"/>
<rect x="186.40" y="317.10" width="6.45" height="9.85" fill="#dddcd1"/>
<rect x="192.55" y="317.10" width="6.45" height="9.85" fill="#dddcd1"/>
<rect x="198.70" y="317.10" width="6.45" height="9.85" fill="#dddcd1"/>
<rect x="204.85" y="317.10" width="6.45" height="9.85" fill="#f1f1f4"/>
<rect x="211.00" y="317.10" width="6.45" height="9.85" fill="#ededed"/>
<rect x="217.15" y="317.10" width="6.45" height="9.85" fill="#dddcd1"/>
<rect x="223.30" y="317.10" width="6.45" height="9.85" fill="#dddcd1"/>
<rect x="229.45" y="317.10" width="6.45" height="9.85" fill="#dddcd1"/>
<rect x="235.60" y="317.10" width="6.45" height="9.85" fill="#cdd6e4"/>
<rect x="241.75" y="317.10" width="6.45" height="9.85" fill="#dddcd1"/>
<rect x="247.90" y="317.10" width="6.45" height="9.85" fill="#dddcd1"/>
<rect x="254.05" y="317.10" width="6.45" height="9.85" fill="#dddcd1"/>
<rect x="260.20" y="317.10" width="6.45" height="9.85" fill="#dddcd1"/>
<rect x="266.35" y="317.10" width="6.45" height="9.85" fill="#dddcd1"/>
<rect x="51.10" y="326.65" width="6.45" height="9.85" fill="#dad9cc"/>
<rect x="57.25" y="326.65" width="6.45" height="9.85" fill="#dddcd1"/>
<rect x="63.40" y="326.65" width="6.45" height="9.85" fill="#b8c6da"/>
<rect x="69.55" y="326.65" width="6.45" height="9.85" fill="#12466f"/>
<rect x="75.70" y="326.65" width="6.45" height="9.85" fill="#e1e0d8"/>
<rect x="81.85" y="326.65" width="6.45" height="9.85" fill="#eaecf1"/>
<rect x="88.00" y="326.65" width="6.45" height="9.85" fill="#ededed"/>
<rect x="94.15" y="326.65" width="6.45" height="9.85" fill="#eaecf1"/>
<rect x="100.30" y="326.65" width="6.45" height="9.85" fill="#1f6a9a"/>
<rect x="106.45" y="326.65" width="6.45" height="9.85" fill="#c6d1e1"/>
<rect x="112.60" y="326.65" width="6.45" height="9.85" fill="#e1e0d8"/>
<rect x="118.75" y="326.65" width="6.45" height="9.85" fill="#dddcd1"/>
<rect x="124.90" y="326.65" width="6.45" height="9.85" fill="#ededed"/>
<rect x="131.05" y="326.65" width="6.45" height="9.85" fill="#dddcd1"/>
<rect x="137.20" y="326.65" width="6.45" height="9.85" fill="#dddcd1"/>
<rect x="143.35" y="326.65" width="6.45" height="9.85" fill="#f1f1f4"/>
<rect x="149.50" y="326.65" width="6.45" height="9.85" fill="#dddcd1"/>
<rect x="155.65" y="326.65" width="6.45" height="9.85" fill="#dddcd1"/>
<rect x="161.80" y="326.65" width="6.45" height="9.85" fill="#dddcd1"/>
<rect x="167.95" y="326.65" width="6.45" height="9.85" fill="#dddcd1"/>
<rect x="174.10" y="326.65" width="6.45" height="9.85" fill="#dddcd1"/>
<rect x="180.25" y="326.65" width="6.45" height="9.85" fill="#dddcd1"/>
<rect x="186.40" y="326.65" width="6.45" height="9.85" fill="#dddcd1"/>
<rect x="192.55" y="326.65" width="6.45" height="9.85" fill="#dddcd1"/>
<rect x="198.70" y="326.65" width="6.45" height="9.85" fill="#dddcd1"/>
<rect x="204.85" y="326.65" width="6.45" height="9.85" fill="#d4dbe7"/>
<rect x="211.00" y="326.65" width="6.45" height="9.85" fill="#dddcd1"/>
<rect x="217.15" y="326.65" width="6.45" height="9.85" fill="#dddcd1"/>
<rect x="223.30" y="326.65" width="6.45" height="9.85" fill="#f1f1f4"/>
<rect x="229.45" y="326.65" width="6.45" height="9.85" fill="#e1e0d8"/>
<rect x="235.60" y="326.65" width="6.45" height="9.85" fill="#f1f1f4"/>
<rect x="241.75" y="326.65" width="6.45" height="9.85" fill="#dddcd1"/>
<rect x="247.90" y="326.65" width="6.45" height="9.85" fill="#f1f1f4"/>
<rect x="254.05" y="326.65" width="6.45" height="9.85" fill="#e1e0d8"/>
<rect x="260.20" y="326.65" width="6.45" height="9.85" fill="#f1f1f4"/>
<rect x="266.35" y="326.65" width="6.45" height="9.85" fill="#dddcd1"/>
<rect x="51.10" y="336.20" width="6.45" height="9.85" fill="#dad9cc"/>
<rect x="57.25" y="336.20" width="6.45" height="9.85" fill="#dddcd1"/>
<rect x="63.40" y="336.20" width="6.45" height="9.85" fill="#cdd6e4"/>
<rect x="69.55" y="336.20" width="6.45" height="9.85" fill="#12466f"/>
<rect x="75.70" y="336.20" width="6.45" height="9.85" fill="#e1e0d8"/>
<rect x="81.85" y="336.20" width="6.45" height="9.85" fill="#eaecf1"/>
<rect x="88.00" y="336.20" width="6.45" height="9.85" fill="#ededed"/>
<rect x="94.15" y="336.20" width="6.45" height="9.85" fill="#eaecf1"/>
<rect x="100.30" y="336.20" width="6.45" height="9.85" fill="#1f6a9a"/>
<rect x="106.45" y="336.20" width="6.45" height="9.85" fill="#c6d1e1"/>
<rect x="112.60" y="336.20" width="6.45" height="9.85" fill="#e1e0d8"/>
<rect x="118.75" y="336.20" width="6.45" height="9.85" fill="#dddcd1"/>
<rect x="124.90" y="336.20" width="6.45" height="9.85" fill="#f1f1f4"/>
<rect x="131.05" y="336.20" width="6.45" height="9.85" fill="#dddcd1"/>
<rect x="137.20" y="336.20" width="6.45" height="9.85" fill="#dddcd1"/>
<rect x="143.35" y="336.20" width="6.45" height="9.85" fill="#ededed"/>
<rect x="149.50" y="336.20" width="6.45" height="9.85" fill="#dddcd1"/>
<rect x="155.65" y="336.20" width="6.45" height="9.85" fill="#dddcd1"/>
<rect x="161.80" y="336.20" width="6.45" height="9.85" fill="#dddcd1"/>
<rect x="167.95" y="336.20" width="6.45" height="9.85" fill="#dddcd1"/>
<rect x="174.10" y="336.20" width="6.45" height="9.85" fill="#dddcd1"/>
<rect x="180.25" y="336.20" width="6.45" height="9.85" fill="#dddcd1"/>
<rect x="186.40" y="336.20" width="6.45" height="9.85" fill="#dddcd1"/>
<rect x="192.55" y="336.20" width="6.45" height="9.85" fill="#dddcd1"/>
<rect x="198.70" y="336.20" width="6.45" height="9.85" fill="#dddcd1"/>
<rect x="204.85" y="336.20" width="6.45" height="9.85" fill="#d4dbe7"/>
<rect x="211.00" y="336.20" width="6.45" height="9.85" fill="#dddcd1"/>
<rect x="217.15" y="336.20" width="6.45" height="9.85" fill="#dddcd1"/>
<rect x="223.30" y="336.20" width="6.45" height="9.85" fill="#f1f1f4"/>
<rect x="229.45" y="336.20" width="6.45" height="9.85" fill="#e1e0d8"/>
<rect x="235.60" y="336.20" width="6.45" height="9.85" fill="#f1f1f4"/>
<rect x="241.75" y="336.20" width="6.45" height="9.85" fill="#dddcd1"/>
<rect x="247.90" y="336.20" width="6.45" height="9.85" fill="#f1f1f4"/>
<rect x="254.05" y="336.20" width="6.45" height="9.85" fill="#e1e0d8"/>
<rect x="260.20" y="336.20" width="6.45" height="9.85" fill="#f1f1f4"/>
<rect x="266.35" y="336.20" width="6.45" height="9.85" fill="#dddcd1"/>
<rect x="51.10" y="345.75" width="6.45" height="9.85" fill="#e9e9e6"/>
<rect x="57.25" y="345.75" width="6.45" height="9.85" fill="#f1f1f4"/>
<rect x="63.40" y="345.75" width="6.45" height="9.85" fill="#bfcbdd"/>
<rect x="69.55" y="345.75" width="6.45" height="9.85" fill="#cdd6e4"/>
<rect x="75.70" y="345.75" width="6.45" height="9.85" fill="#f1f1f4"/>
<rect x="81.85" y="345.75" width="6.45" height="9.85" fill="#bfcbdd"/>
<rect x="88.00" y="345.75" width="6.45" height="9.85" fill="#ededed"/>
<rect x="94.15" y="345.75" width="6.45" height="9.85" fill="#cdd6e4"/>
<rect x="100.30" y="345.75" width="6.45" height="9.85" fill="#c6d1e1"/>
<rect x="106.45" y="345.75" width="6.45" height="9.85" fill="#e9e9e6"/>
<rect x="112.60" y="345.75" width="6.45" height="9.85" fill="#f1f1f4"/>
<rect x="118.75" y="345.75" width="6.45" height="9.85" fill="#c5c3a9"/>
<rect x="124.90" y="345.75" width="6.45" height="9.85" fill="#c6d1e1"/>
<rect x="131.05" y="345.75" width="6.45" height="9.85" fill="#cdd6e4"/>
<rect x="137.20" y="345.75" width="6.45" height="9.85" fill="#f1f1f4"/>
<rect x="143.35" y="345.75" width="6.45" height="9.85" fill="#b1c0d6"/>
<rect x="149.50" y="345.75" width="6.45" height="9.85" fill="#d3d2c1"/>
<rect x="155.65" y="345.75" width="6.45" height="9.85" fill="#d4dbe7"/>
<rect x="161.80" y="345.75" width="6.45" height="9.85" fill="#dbe1ea"/>
<rect x="167.95" y="345.75" width="6.45" height="9.85" fill="#c6d1e1"/>
<rect x="174.10" y="345.75" width="6.45" height="9.85" fill="#f1f1f4"/>
<rect x="180.25" y="345.75" width="6.45" height="9.85" fill="#cdd6e4"/>
<rect x="186.40" y="345.75" width="6.45" height="9.85" fill="#cdd6e4"/>
<rect x="192.55" y="345.75" width="6.45" height="9.85" fill="#d3d2c1"/>
<rect x="198.70" y="345.75" width="6.45" height="9.85" fill="#e1e0d8"/>
<rect x="204.85" y="345.75" width="6.45" height="9.85" fill="#c6d1e1"/>
<rect x="211.00" y="345.75" width="6.45" height="9.85" fill="#f1f1f4"/>
<rect x="217.15" y="345.75" width="6.45" height="9.85" fill="#666428"/>
<rect x="223.30" y="345.75" width="6.45" height="9.85" fill="#f1f1f4"/>
<rect x="229.45" y="345.75" width="6.45" height="9.85" fill="#ededed"/>
<rect x="235.60" y="345.75" width="6.45" height="9.85" fill="#d3d2c1"/>
<rect x="241.75" y="345.75" width="6.45" height="9.85" fill="#c2bfa3"/>
<rect x="247.90" y="345.75" width="6.45" height="9.85" fill="#cdcbb6"/>
<rect x="254.05" y="345.75" width="6.45" height="9.85" fill="#848148"/>
<rect x="260.20" y="345.75" width="6.45" height="9.85" fill="#e9e9e6"/>
<rect x="266.35" y="345.75" width="6.45" height="9.85" fill="#c6d1e1"/>
<rect x="51.10" y="355.30" width="6.45" height="9.85" fill="#e9e9e6"/>
<rect x="57.25" y="355.30" width="6.45" height="9.85" fill="#e9e9e6"/>
<rect x="63.40" y="355.30" width="6.45" height="9.85" fill="#aabbd3"/>
<rect x="69.55" y="355.30" width="6.45" height="9.85" fill="#f1f1f4"/>
<rect x="75.70" y="355.30" width="6.45" height="9.85" fill="#e9e9e6"/>
<rect x="81.85" y="355.30" width="6.45" height="9.85" fill="#809bbd"/>
<rect x="88.00" y="355.30" width="6.45" height="9.85" fill="#ededed"/>
<rect x="94.15" y="355.30" width="6.45" height="9.85" fill="#b8c6da"/>
<rect x="100.30" y="355.30" width="6.45" height="9.85" fill="#f1f1f4"/>
<rect x="106.45" y="355.30" width="6.45" height="9.85" fill="#e9e9e6"/>
<rect x="112.60" y="355.30" width="6.45" height="9.85" fill="#dbe1ea"/>
<rect x="118.75" y="355.30" width="6.45" height="9.85" fill="#e9e9e6"/>
<rect x="124.90" y="355.30" width="6.45" height="9.85" fill="#e3e6ee"/>
<rect x="131.05" y="355.30" width="6.45" height="9.85" fill="#cdd6e4"/>
<rect x="137.20" y="355.30" width="6.45" height="9.85" fill="#ededed"/>
<rect x="143.35" y="355.30" width="6.45" height="9.85" fill="#e1e0d8"/>
<rect x="149.50" y="355.30" width="6.45" height="9.85" fill="#f1f1f4"/>
<rect x="155.65" y="355.30" width="6.45" height="9.85" fill="#c6d1e1"/>
<rect x="161.80" y="355.30" width="6.45" height="9.85" fill="#c6d1e1"/>
<rect x="167.95" y="355.30" width="6.45" height="9.85" fill="#e3e6ee"/>
<rect x="174.10" y="355.30" width="6.45" height="9.85" fill="#bfcbdd"/>
<rect x="180.25" y="355.30" width="6.45" height="9.85" fill="#cdd6e4"/>
<rect x="186.40" y="355.30" width="6.45" height="9.85" fill="#ededed"/>
<rect x="192.55" y="355.30" width="6.45" height="9.85" fill="#ededed"/>
<rect x="198.70" y="355.30" width="6.45" height="9.85" fill="#e1e0d8"/>
<rect x="204.85" y="355.30" width="6.45" height="9.85" fill="#9bb0cc"/>
<rect x="211.00" y="355.30" width="6.45" height="9.85" fill="#d4dbe7"/>
<rect x="217.15" y="355.30" width="6.45" height="9.85" fill="#adaa82"/>
<rect x="223.30" y="355.30" width="6.45" height="9.85" fill="#f1f1f4"/>
<rect x="229.45" y="355.30" width="6.45" height="9.85" fill="#dbe1ea"/>
<rect x="235.60" y="355.30" width="6.45" height="9.85" fill="#cdcbb6"/>
<rect x="241.75" y="355.30" width="6.45" height="9.85" fill="#c2bfa3"/>
<rect x="247.90" y="355.30" width="6.45" height="9.85" fill="#c5c3a9"/>
<rect x="254.05" y="355.30" width="6.45" height="9.85" fill="#bab796"/>
<rect x="260.20" y="355.30" width="6.45" height="9.85" fill="#e9e9e6"/>
<rect x="266.35" y="355.30" width="6.45" height="9.85" fill="#9bb0cc"/>
<rect x="51.10" y="364.85" width="6.45" height="9.85" fill="#d4dbe7"/>
<rect x="57.25" y="364.85" width="6.45" height="9.85" fill="#a0b3cf"/>
<rect x="63.40" y="364.85" width="6.45" height="9.85" fill="#f1f1f4"/>
<rect x="69.55" y="364.85" width="6.45" height="9.85" fill="#96acca"/>
<rect x="75.70" y="364.85" width="6.45" height="9.85" fill="#dbe1ea"/>
<rect x="81.85" y="364.85" width="6.45" height="9.85" fill="#c6d1e1"/>
<rect x="88.00" y="364.85" width="6.45" height="9.85" fill="#e1e0d8"/>
<rect x="94.15" y="364.85" width="6.45" height="9.85" fill="#f1f1f4"/>
<rect x="100.30" y="364.85" width="6.45" height="9.85" fill="#cdd6e4"/>
<rect x="106.45" y="364.85" width="6.45" height="9.85" fill="#a0b3cf"/>
<rect x="112.60" y="364.85" width="6.45" height="9.85" fill="#aabbd3"/>
<rect x="118.75" y="364.85" width="6.45" height="9.85" fill="#f1f1f4"/>
<rect x="124.90" y="364.85" width="6.45" height="9.85" fill="#c6d1e1"/>
<rect x="131.05" y="364.85" width="6.45" height="9.85" fill="#e3e6ee"/>
<rect x="137.20" y="364.85" width="6.45" height="9.85" fill="#e5e4df"/>
<rect x="143.35" y="364.85" width="6.45" height="9.85" fill="#f1f1f4"/>
<rect x="149.50" y="364.85" width="6.45" height="9.85" fill="#dad9cc"/>
<rect x="155.65" y="364.85" width="6.45" height="9.85" fill="#cdd6e4"/>
<rect x="161.80" y="364.85" width="6.45" height="9.85" fill="#dddcd1"/>
<rect x="167.95" y="364.85" width="6.45" height="9.85" fill="#e9e9e6"/>
<rect x="174.10" y="364.85" width="6.45" height="9.85" fill="#ededed"/>
<rect x="180.25" y="364.85" width="6.45" height="9.85" fill="#e3e6ee"/>
<rect x="186.40" y="364.85" width="6.45" height="9.85" fill="#b8c6da"/>
<rect x="192.55" y="364.85" width="6.45" height="9.85" fill="#f1f1f4"/>
<rect x="198.70" y="364.85" width="6.45" height="9.85" fill="#f1f1f4"/>
<rect x="204.85" y="364.85" width="6.45" height="9.85" fill="#eaecf1"/>
<rect x="211.00" y="364.85" width="6.45" height="9.85" fill="#d4dbe7"/>
<rect x="217.15" y="364.85" width="6.45" height="9.85" fill="#a4a174"/>
<rect x="223.30" y="364.85" width="6.45" height="9.85" fill="#f1f1f4"/>
<rect x="229.45" y="364.85" width="6.45" height="9.85" fill="#dad9cc"/>
<rect x="235.60" y="364.85" width="6.45" height="9.85" fill="#cdcbb6"/>
<rect x="241.75" y="364.85" width="6.45" height="9.85" fill="#9b9866"/>
<rect x="247.90" y="364.85" width="6.45" height="9.85" fill="#e9e9e6"/>
<rect x="254.05" y="364.85" width="6.45" height="9.85" fill="#757238"/>
<rect x="260.20" y="364.85" width="6.45" height="9.85" fill="#e3e6ee"/>
<rect x="266.35" y="364.85" width="6.45" height="9.85" fill="#e9e9e6"/>
<rect x="51.10" y="374.40" width="6.45" height="9.85" fill="#cdd6e4"/>
<rect x="57.25" y="374.40" width="6.45" height="9.85" fill="#bfcbdd"/>
<rect x="63.40" y="374.40" width="6.45" height="9.85" fill="#c6d1e1"/>
<rect x="69.55" y="374.40" width="6.45" height="9.85" fill="#dbe1ea"/>
<rect x="75.70" y="374.40" width="6.45" height="9.85" fill="#d4dbe7"/>
<rect x="81.85" y="374.40" width="6.45" height="9.85" fill="#aabbd3"/>
<rect x="88.00" y="374.40" width="6.45" height="9.85" fill="#c6d1e1"/>
<rect x="94.15" y="374.40" width="6.45" height="9.85" fill="#c6d1e1"/>
<rect x="100.30" y="374.40" width="6.45" height="9.85" fill="#e3e6ee"/>
<rect x="106.45" y="374.40" width="6.45" height="9.85" fill="#dbe1ea"/>
<rect x="112.60" y="374.40" width="6.45" height="9.85" fill="#f1f1f4"/>
<rect x="118.75" y="374.40" width="6.45" height="9.85" fill="#cdd6e4"/>
<rect x="124.90" y="374.40" width="6.45" height="9.85" fill="#c6d1e1"/>
<rect x="131.05" y="374.40" width="6.45" height="9.85" fill="#f1f1f4"/>
<rect x="137.20" y="374.40" width="6.45" height="9.85" fill="#bfcbdd"/>
<rect x="143.35" y="374.40" width="6.45" height="9.85" fill="#bfcbdd"/>
<rect x="149.50" y="374.40" width="6.45" height="9.85" fill="#ededed"/>
<rect x="155.65" y="374.40" width="6.45" height="9.85" fill="#f1f1f4"/>
<rect x="161.80" y="374.40" width="6.45" height="9.85" fill="#e5e4df"/>
<rect x="167.95" y="374.40" width="6.45" height="9.85" fill="#bfcbdd"/>
<rect x="174.10" y="374.40" width="6.45" height="9.85" fill="#e3e6ee"/>
<rect x="180.25" y="374.40" width="6.45" height="9.85" fill="#c6d1e1"/>
<rect x="186.40" y="374.40" width="6.45" height="9.85" fill="#c6d1e1"/>
<rect x="192.55" y="374.40" width="6.45" height="9.85" fill="#f1f1f4"/>
<rect x="198.70" y="374.40" width="6.45" height="9.85" fill="#c6d1e1"/>
<rect x="204.85" y="374.40" width="6.45" height="9.85" fill="#f1f1f4"/>
<rect x="211.00" y="374.40" width="6.45" height="9.85" fill="#dbe1ea"/>
<rect x="217.15" y="374.40" width="6.45" height="9.85" fill="#5c5a1e"/>
<rect x="223.30" y="374.40" width="6.45" height="9.85" fill="#dddcd1"/>
<rect x="229.45" y="374.40" width="6.45" height="9.85" fill="#dad9cc"/>
<rect x="235.60" y="374.40" width="6.45" height="9.85" fill="#cdcbb6"/>
<rect x="241.75" y="374.40" width="6.45" height="9.85" fill="#bab796"/>
<rect x="247.90" y="374.40" width="6.45" height="9.85" fill="#bab796"/>
<rect x="254.05" y="374.40" width="6.45" height="9.85" fill="#848148"/>
<rect x="260.20" y="374.40" width="6.45" height="9.85" fill="#f1f1f4"/>
<rect x="266.35" y="374.40" width="6.45" height="9.85" fill="#d3d2c1"/>
<rect x="51.10" y="383.95" width="6.45" height="9.85" fill="#c6d1e1"/>
<rect x="57.25" y="383.95" width="6.45" height="9.85" fill="#c6d1e1"/>
<rect x="63.40" y="383.95" width="6.45" height="9.85" fill="#bfcbdd"/>
<rect x="69.55" y="383.95" width="6.45" height="9.85" fill="#e3e6ee"/>
<rect x="75.70" y="383.95" width="6.45" height="9.85" fill="#c6d1e1"/>
<rect x="81.85" y="383.95" width="6.45" height="9.85" fill="#c6d1e1"/>
<rect x="88.00" y="383.95" width="6.45" height="9.85" fill="#c6d1e1"/>
<rect x="94.15" y="383.95" width="6.45" height="9.85" fill="#cdd6e4"/>
<rect x="100.30" y="383.95" width="6.45" height="9.85" fill="#c6d1e1"/>
<rect x="106.45" y="383.95" width="6.45" height="9.85" fill="#c6d1e1"/>
<rect x="112.60" y="383.95" width="6.45" height="9.85" fill="#f1f1f4"/>
<rect x="118.75" y="383.95" width="6.45" height="9.85" fill="#e3e6ee"/>
<rect x="124.90" y="383.95" width="6.45" height="9.85" fill="#cdd6e4"/>
<rect x="131.05" y="383.95" width="6.45" height="9.85" fill="#f1f1f4"/>
<rect x="137.20" y="383.95" width="6.45" height="9.85" fill="#c6d1e1"/>
<rect x="143.35" y="383.95" width="6.45" height="9.85" fill="#c6d1e1"/>
<rect x="149.50" y="383.95" width="6.45" height="9.85" fill="#ededed"/>
<rect x="155.65" y="383.95" width="6.45" height="9.85" fill="#d4dbe7"/>
<rect x="161.80" y="383.95" width="6.45" height="9.85" fill="#dad9cc"/>
<rect x="167.95" y="383.95" width="6.45" height="9.85" fill="#e3e6ee"/>
<rect x="174.10" y="383.95" width="6.45" height="9.85" fill="#f1f1f4"/>
<rect x="180.25" y="383.95" width="6.45" height="9.85" fill="#dbe1ea"/>
<rect x="186.40" y="383.95" width="6.45" height="9.85" fill="#cdd6e4"/>
<rect x="192.55" y="383.95" width="6.45" height="9.85" fill="#f1f1f4"/>
<rect x="198.70" y="383.95" width="6.45" height="9.85" fill="#cdd6e4"/>
<rect x="204.85" y="383.95" width="6.45" height="9.85" fill="#f1f1f4"/>
<rect x="211.00" y="383.95" width="6.45" height="9.85" fill="#cdd6e4"/>
<rect x="217.15" y="383.95" width="6.45" height="9.85" fill="#5c5a1e"/>
<rect x="223.30" y="383.95" width="6.45" height="9.85" fill="#dddcd1"/>
<rect x="229.45" y="383.95" width="6.45" height="9.85" fill="#cdcbb6"/>
<rect x="235.60" y="383.95" width="6.45" height="9.85" fill="#cdcbb6"/>
<rect x="241.75" y="383.95" width="6.45" height="9.85" fill="#adaa82"/>
<rect x="247.90" y="383.95" width="6.45" height="9.85" fill="#dad9cc"/>
<rect x="254.05" y="383.95" width="6.45" height="9.85" fill="#666428"/>
<rect x="260.20" y="383.95" width="6.45" height="9.85" fill="#f1f1f4"/>
<rect x="266.35" y="383.95" width="6.45" height="9.85" fill="#cdcbb6"/>
<rect x="51.10" y="393.50" width="6.45" height="9.85" fill="#c6d1e1"/>
<rect x="57.25" y="393.50" width="6.45" height="9.85" fill="#aabbd3"/>
<rect x="63.40" y="393.50" width="6.45" height="9.85" fill="#e1e0d8"/>
<rect x="69.55" y="393.50" width="6.45" height="9.85" fill="#aabbd3"/>
<rect x="75.70" y="393.50" width="6.45" height="9.85" fill="#c6d1e1"/>
<rect x="81.85" y="393.50" width="6.45" height="9.85" fill="#aabbd3"/>
<rect x="88.00" y="393.50" width="6.45" height="9.85" fill="#dddcd1"/>
<rect x="94.15" y="393.50" width="6.45" height="9.85" fill="#ededed"/>
<rect x="100.30" y="393.50" width="6.45" height="9.85" fill="#aabbd3"/>
<rect x="106.45" y="393.50" width="6.45" height="9.85" fill="#aabbd3"/>
<rect x="112.60" y="393.50" width="6.45" height="9.85" fill="#e3e6ee"/>
<rect x="118.75" y="393.50" width="6.45" height="9.85" fill="#aabbd3"/>
<rect x="124.90" y="393.50" width="6.45" height="9.85" fill="#f1f1f4"/>
<rect x="131.05" y="393.50" width="6.45" height="9.85" fill="#d4dbe7"/>
<rect x="137.20" y="393.50" width="6.45" height="9.85" fill="#adaa82"/>
<rect x="143.35" y="393.50" width="6.45" height="9.85" fill="#f1f1f4"/>
<rect x="149.50" y="393.50" width="6.45" height="9.85" fill="#bab796"/>
<rect x="155.65" y="393.50" width="6.45" height="9.85" fill="#cdd6e4"/>
<rect x="161.80" y="393.50" width="6.45" height="9.85" fill="#c6d1e1"/>
<rect x="167.95" y="393.50" width="6.45" height="9.85" fill="#9b9866"/>
<rect x="174.10" y="393.50" width="6.45" height="9.85" fill="#ededed"/>
<rect x="180.25" y="393.50" width="6.45" height="9.85" fill="#c6d1e1"/>
<rect x="186.40" y="393.50" width="6.45" height="9.85" fill="#d4dbe7"/>
<rect x="192.55" y="393.50" width="6.45" height="9.85" fill="#f1f1f4"/>
<rect x="198.70" y="393.50" width="6.45" height="9.85" fill="#f1f1f4"/>
<rect x="204.85" y="393.50" width="6.45" height="9.85" fill="#cdd6e4"/>
<rect x="211.00" y="393.50" width="6.45" height="9.85" fill="#cdd6e4"/>
<rect x="217.15" y="393.50" width="6.45" height="9.85" fill="#e9e9e6"/>
<rect x="223.30" y="393.50" width="6.45" height="9.85" fill="#dbe1ea"/>
<rect x="229.45" y="393.50" width="6.45" height="9.85" fill="#5c5a1e"/>
<rect x="235.60" y="393.50" width="6.45" height="9.85" fill="#c5c3a9"/>
<rect x="241.75" y="393.50" width="6.45" height="9.85" fill="#d4dbe7"/>
<rect x="247.90" y="393.50" width="6.45" height="9.85" fill="#dad9cc"/>
<rect x="254.05" y="393.50" width="6.45" height="9.85" fill="#b6b38f"/>
<rect x="260.20" y="393.50" width="6.45" height="9.85" fill="#f1f1f4"/>
<rect x="266.35" y="393.50" width="6.45" height="9.85" fill="#f1f1f4"/>
<rect x="51.10" y="403.05" width="6.45" height="9.85" fill="#cdd6e4"/>
<rect x="57.25" y="403.05" width="6.45" height="9.85" fill="#c6d1e1"/>
<rect x="63.40" y="403.05" width="6.45" height="9.85" fill="#f1f1f4"/>
<rect x="69.55" y="403.05" width="6.45" height="9.85" fill="#e3e6ee"/>
<rect x="75.70" y="403.05" width="6.45" height="9.85" fill="#f1f1f4"/>
<rect x="81.85" y="403.05" width="6.45" height="9.85" fill="#f1f1f4"/>
<rect x="88.00" y="403.05" width="6.45" height="9.85" fill="#c6d1e1"/>
<rect x="94.15" y="403.05" width="6.45" height="9.85" fill="#c6d1e1"/>
<rect x="100.30" y="403.05" width="6.45" height="9.85" fill="#c6d1e1"/>
<rect x="106.45" y="403.05" width="6.45" height="9.85" fill="#e3e6ee"/>
<rect x="112.60" y="403.05" width="6.45" height="9.85" fill="#cdd6e4"/>
<rect x="118.75" y="403.05" width="6.45" height="9.85" fill="#c6d1e1"/>
<rect x="124.90" y="403.05" width="6.45" height="9.85" fill="#cdd6e4"/>
<rect x="131.05" y="403.05" width="6.45" height="9.85" fill="#ededed"/>
<rect x="137.20" y="403.05" width="6.45" height="9.85" fill="#adaa82"/>
<rect x="143.35" y="403.05" width="6.45" height="9.85" fill="#f1f1f4"/>
<rect x="149.50" y="403.05" width="6.45" height="9.85" fill="#b6b38f"/>
<rect x="155.65" y="403.05" width="6.45" height="9.85" fill="#c6d1e1"/>
<rect x="161.80" y="403.05" width="6.45" height="9.85" fill="#bfcbdd"/>
<rect x="167.95" y="403.05" width="6.45" height="9.85" fill="#dbe1ea"/>
<rect x="174.10" y="403.05" width="6.45" height="9.85" fill="#cdd6e4"/>
<rect x="180.25" y="403.05" width="6.45" height="9.85" fill="#cdd6e4"/>
<rect x="186.40" y="403.05" width="6.45" height="9.85" fill="#f1f1f4"/>
<rect x="192.55" y="403.05" width="6.45" height="9.85" fill="#f1f1f4"/>
<rect x="198.70" y="403.05" width="6.45" height="9.85" fill="#dbe1ea"/>
<rect x="204.85" y="403.05" width="6.45" height="9.85" fill="#eaecf1"/>
<rect x="211.00" y="403.05" width="6.45" height="9.85" fill="#d7d5c6"/>
<rect x="217.15" y="403.05" width="6.45" height="9.85" fill="#dad9cc"/>
<rect x="223.30" y="403.05" width="6.45" height="9.85" fill="#f1f1f4"/>
<rect x="229.45" y="403.05" width="6.45" height="9.85" fill="#dad9cc"/>
<rect x="235.60" y="403.05" width="6.45" height="9.85" fill="#c5c3a9"/>
<rect x="241.75" y="403.05" width="6.45" height="9.85" fill="#cdd6e4"/>
<rect x="247.90" y="403.05" width="6.45" height="9.85" fill="#484818"/>
<rect x="254.05" y="403.05" width="6.45" height="9.85" fill="#e9e9e6"/>
<rect x="260.20" y="403.05" width="6.45" height="9.85" fill="#8e8b52"/>
<rect x="266.35" y="403.05" width="6.45" height="9.85" fill="#d4dbe7"/>
<rect x="51.10" y="412.60" width="6.45" height="9.85" fill="#c6d1e1"/>
<rect x="57.25" y="412.60" width="6.45" height="9.85" fill="#b1c0d6"/>
<rect x="63.40" y="412.60" width="6.45" height="9.85" fill="#f1f1f4"/>
<rect x="69.55" y="412.60" width="6.45" height="9.85" fill="#eaecf1"/>
<rect x="75.70" y="412.60" width="6.45" height="9.85" fill="#bfcbdd"/>
<rect x="81.85" y="412.60" width="6.45" height="9.85" fill="#bfcbdd"/>
<rect x="88.00" y="412.60" width="6.45" height="9.85" fill="#f1f1f4"/>
<rect x="94.15" y="412.60" width="6.45" height="9.85" fill="#d4dbe7"/>
<rect x="100.30" y="412.60" width="6.45" height="9.85" fill="#cdd6e4"/>
<rect x="106.45" y="412.60" width="6.45" height="9.85" fill="#d4dbe7"/>
<rect x="112.60" y="412.60" width="6.45" height="9.85" fill="#f1f1f4"/>
<rect x="118.75" y="412.60" width="6.45" height="9.85" fill="#484818"/>
<rect x="124.90" y="412.60" width="6.45" height="9.85" fill="#e3e6ee"/>
<rect x="131.05" y="412.60" width="6.45" height="9.85" fill="#c6d1e1"/>
<rect x="137.20" y="412.60" width="6.45" height="9.85" fill="#c6d1e1"/>
<rect x="143.35" y="412.60" width="6.45" height="9.85" fill="#b6b38f"/>
<rect x="149.50" y="412.60" width="6.45" height="9.85" fill="#c6d1e1"/>
<rect x="155.65" y="412.60" width="6.45" height="9.85" fill="#c6d1e1"/>
<rect x="161.80" y="412.60" width="6.45" height="9.85" fill="#f1f1f4"/>
<rect x="167.95" y="412.60" width="6.45" height="9.85" fill="#e3e6ee"/>
<rect x="174.10" y="412.60" width="6.45" height="9.85" fill="#c6d1e1"/>
<rect x="180.25" y="412.60" width="6.45" height="9.85" fill="#e3e6ee"/>
<rect x="186.40" y="412.60" width="6.45" height="9.85" fill="#f1f1f4"/>
<rect x="192.55" y="412.60" width="6.45" height="9.85" fill="#cdd6e4"/>
<rect x="198.70" y="412.60" width="6.45" height="9.85" fill="#f1f1f4"/>
<rect x="204.85" y="412.60" width="6.45" height="9.85" fill="#f1f1f4"/>
<rect x="211.00" y="412.60" width="6.45" height="9.85" fill="#ededed"/>
<rect x="217.15" y="412.60" width="6.45" height="9.85" fill="#dbe1ea"/>
<rect x="223.30" y="412.60" width="6.45" height="9.85" fill="#cdd6e4"/>
<rect x="229.45" y="412.60" width="6.45" height="9.85" fill="#a4a174"/>
<rect x="235.60" y="412.60" width="6.45" height="9.85" fill="#bab796"/>
<rect x="241.75" y="412.60" width="6.45" height="9.85" fill="#89864d"/>
<rect x="247.90" y="412.60" width="6.45" height="9.85" fill="#cdd6e4"/>
<rect x="254.05" y="412.60" width="6.45" height="9.85" fill="#cdd6e4"/>
<rect x="260.20" y="412.60" width="6.45" height="9.85" fill="#d4dbe7"/>
<rect x="266.35" y="412.60" width="6.45" height="9.85" fill="#f1f1f4"/>
<rect x="51.10" y="422.15" width="6.45" height="9.85" fill="#e3e6ee"/>
<rect x="57.25" y="422.15" width="6.45" height="9.85" fill="#eaecf1"/>
<rect x="63.40" y="422.15" width="6.45" height="9.85" fill="#f1f1f4"/>
<rect x="69.55" y="422.15" width="6.45" height="9.85" fill="#757238"/>
<rect x="75.70" y="422.15" width="6.45" height="9.85" fill="#f1f1f4"/>
<rect x="81.85" y="422.15" width="6.45" height="9.85" fill="#bfcbdd"/>
<rect x="88.00" y="422.15" width="6.45" height="9.85" fill="#f1f1f4"/>
<rect x="94.15" y="422.15" width="6.45" height="9.85" fill="#f1f1f4"/>
<rect x="100.30" y="422.15" width="6.45" height="9.85" fill="#dbe1ea"/>
<rect x="106.45" y="422.15" width="6.45" height="9.85" fill="#d4dbe7"/>
<rect x="112.60" y="422.15" width="6.45" height="9.85" fill="#d4dbe7"/>
<rect x="118.75" y="422.15" width="6.45" height="9.85" fill="#3a3c14"/>
<rect x="124.90" y="422.15" width="6.45" height="9.85" fill="#cdd6e4"/>
<rect x="131.05" y="422.15" width="6.45" height="9.85" fill="#dbe1ea"/>
<rect x="137.20" y="422.15" width="6.45" height="9.85" fill="#ededed"/>
<rect x="143.35" y="422.15" width="6.45" height="9.85" fill="#d4dbe7"/>
<rect x="149.50" y="422.15" width="6.45" height="9.85" fill="#d4dbe7"/>
<rect x="155.65" y="422.15" width="6.45" height="9.85" fill="#d4dbe7"/>
<rect x="161.80" y="422.15" width="6.45" height="9.85" fill="#f1f1f4"/>
<rect x="167.95" y="422.15" width="6.45" height="9.85" fill="#d4dbe7"/>
<rect x="174.10" y="422.15" width="6.45" height="9.85" fill="#d4dbe7"/>
<rect x="180.25" y="422.15" width="6.45" height="9.85" fill="#cdd6e4"/>
<rect x="186.40" y="422.15" width="6.45" height="9.85" fill="#f1f1f4"/>
<rect x="192.55" y="422.15" width="6.45" height="9.85" fill="#c6d1e1"/>
<rect x="198.70" y="422.15" width="6.45" height="9.85" fill="#f1f1f4"/>
<rect x="204.85" y="422.15" width="6.45" height="9.85" fill="#eaecf1"/>
<rect x="211.00" y="422.15" width="6.45" height="9.85" fill="#f1f1f4"/>
<rect x="217.15" y="422.15" width="6.45" height="9.85" fill="#c6d1e1"/>
<rect x="223.30" y="422.15" width="6.45" height="9.85" fill="#cdd6e4"/>
<rect x="229.45" y="422.15" width="6.45" height="9.85" fill="#dddcd1"/>
<rect x="235.60" y="422.15" width="6.45" height="9.85" fill="#f1f1f4"/>
<rect x="241.75" y="422.15" width="6.45" height="9.85" fill="#89864d"/>
<rect x="247.90" y="422.15" width="6.45" height="9.85" fill="#f1f1f4"/>
<rect x="254.05" y="422.15" width="6.45" height="9.85" fill="#ededed"/>
<rect x="260.20" y="422.15" width="6.45" height="9.85" fill="#f1f1f4"/>
<rect x="266.35" y="422.15" width="6.45" height="9.85" fill="#ededed"/>
<rect x="51.10" y="431.70" width="6.45" height="9.85" fill="#dad9cc"/>
<rect x="57.25" y="431.70" width="6.45" height="9.85" fill="#dad9cc"/>
<rect x="63.40" y="431.70" width="6.45" height="9.85" fill="#dbe1ea"/>
<rect x="69.55" y="431.70" width="6.45" height="9.85" fill="#f1f1f4"/>
<rect x="75.70" y="431.70" width="6.45" height="9.85" fill="#e1e0d8"/>
<rect x="81.85" y="431.70" width="6.45" height="9.85" fill="#a0b3cf"/>
<rect x="88.00" y="431.70" width="6.45" height="9.85" fill="#d7d5c6"/>
<rect x="94.15" y="431.70" width="6.45" height="9.85" fill="#f1f1f4"/>
<rect x="100.30" y="431.70" width="6.45" height="9.85" fill="#b8c6da"/>
<rect x="106.45" y="431.70" width="6.45" height="9.85" fill="#5f88af"/>
<rect x="112.60" y="431.70" width="6.45" height="9.85" fill="#a0b3cf"/>
<rect x="118.75" y="431.70" width="6.45" height="9.85" fill="#e5e4df"/>
<rect x="124.90" y="431.70" width="6.45" height="9.85" fill="#dddcd1"/>
<rect x="131.05" y="431.70" width="6.45" height="9.85" fill="#7492b6"/>
<rect x="137.20" y="431.70" width="6.45" height="9.85" fill="#dad9cc"/>
<rect x="143.35" y="431.70" width="6.45" height="9.85" fill="#dad9cc"/>
<rect x="149.50" y="431.70" width="6.45" height="9.85" fill="#f1f1f4"/>
<rect x="155.65" y="431.70" width="6.45" height="9.85" fill="#dbe1ea"/>
<rect x="161.80" y="431.70" width="6.45" height="9.85" fill="#dad9cc"/>
<rect x="167.95" y="431.70" width="6.45" height="9.85" fill="#dad9cc"/>
<rect x="174.10" y="431.70" width="6.45" height="9.85" fill="#dddcd1"/>
<rect x="180.25" y="431.70" width="6.45" height="9.85" fill="#dddcd1"/>
<rect x="186.40" y="431.70" width="6.45" height="9.85" fill="#dddcd1"/>
<rect x="192.55" y="431.70" width="6.45" height="9.85" fill="#e9e9e6"/>
<rect x="198.70" y="431.70" width="6.45" height="9.85" fill="#91a8c8"/>
<rect x="204.85" y="431.70" width="6.45" height="9.85" fill="#91a8c8"/>
<rect x="211.00" y="431.70" width="6.45" height="9.85" fill="#dbe1ea"/>
<rect x="217.15" y="431.70" width="6.45" height="9.85" fill="#dddcd1"/>
<rect x="223.30" y="431.70" width="6.45" height="9.85" fill="#dddcd1"/>
<rect x="229.45" y="431.70" width="6.45" height="9.85" fill="#dddcd1"/>
<rect x="235.60" y="431.70" width="6.45" height="9.85" fill="#dddcd1"/>
<rect x="241.75" y="431.70" width="6.45" height="9.85" fill="#dddcd1"/>
<rect x="247.90" y="431.70" width="6.45" height="9.85" fill="#dddcd1"/>
<rect x="254.05" y="431.70" width="6.45" height="9.85" fill="#dddcd1"/>
<rect x="260.20" y="431.70" width="6.45" height="9.85" fill="#e5e4df"/>
<rect x="266.35" y="431.70" width="6.45" height="9.85" fill="#ededed"/>
<rect x="51.10" y="441.25" width="6.45" height="9.85" fill="#c6d1e1"/>
<rect x="57.25" y="441.25" width="6.45" height="9.85" fill="#dddcd1"/>
<rect x="63.40" y="441.25" width="6.45" height="9.85" fill="#f1f1f4"/>
<rect x="69.55" y="441.25" width="6.45" height="9.85" fill="#96acca"/>
<rect x="75.70" y="441.25" width="6.45" height="9.85" fill="#f1f1f4"/>
<rect x="81.85" y="441.25" width="6.45" height="9.85" fill="#9bb0cc"/>
<rect x="88.00" y="441.25" width="6.45" height="9.85" fill="#d3d2c1"/>
<rect x="94.15" y="441.25" width="6.45" height="9.85" fill="#f1f1f4"/>
<rect x="100.30" y="441.25" width="6.45" height="9.85" fill="#a5b7d1"/>
<rect x="106.45" y="441.25" width="6.45" height="9.85" fill="#a5b7d1"/>
<rect x="112.60" y="441.25" width="6.45" height="9.85" fill="#aabbd3"/>
<rect x="118.75" y="441.25" width="6.45" height="9.85" fill="#c2bfa3"/>
<rect x="124.90" y="441.25" width="6.45" height="9.85" fill="#f1f1f4"/>
<rect x="131.05" y="441.25" width="6.45" height="9.85" fill="#f1f1f4"/>
<rect x="137.20" y="441.25" width="6.45" height="9.85" fill="#cdd6e4"/>
<rect x="143.35" y="441.25" width="6.45" height="9.85" fill="#cdd6e4"/>
<rect x="149.50" y="441.25" width="6.45" height="9.85" fill="#f1f1f4"/>
<rect x="155.65" y="441.25" width="6.45" height="9.85" fill="#c6d1e1"/>
<rect x="161.80" y="441.25" width="6.45" height="9.85" fill="#e9e9e6"/>
<rect x="167.95" y="441.25" width="6.45" height="9.85" fill="#c2bfa3"/>
<rect x="174.10" y="441.25" width="6.45" height="9.85" fill="#bab796"/>
<rect x="180.25" y="441.25" width="6.45" height="9.85" fill="#c6d1e1"/>
<rect x="186.40" y="441.25" width="6.45" height="9.85" fill="#e9e9e6"/>
<rect x="192.55" y="441.25" width="6.45" height="9.85" fill="#cdcbb6"/>
<rect x="198.70" y="441.25" width="6.45" height="9.85" fill="#cdcbb6"/>
<rect x="204.85" y="441.25" width="6.45" height="9.85" fill="#cdd6e4"/>
<rect x="211.00" y="441.25" width="6.45" height="9.85" fill="#f1f1f4"/>
<rect x="217.15" y="441.25" width="6.45" height="9.85" fill="#dddcd1"/>
<rect x="223.30" y="441.25" width="6.45" height="9.85" fill="#dad9cc"/>
<rect x="229.45" y="441.25" width="6.45" height="9.85" fill="#e9e9e6"/>
<rect x="235.60" y="441.25" width="6.45" height="9.85" fill="#e9e9e6"/>
<rect x="241.75" y="441.25" width="6.45" height="9.85" fill="#e9e9e6"/>
<rect x="247.90" y="441.25" width="6.45" height="9.85" fill="#e9e9e6"/>
<rect x="254.05" y="441.25" width="6.45" height="9.85" fill="#b6b38f"/>
<rect x="260.20" y="441.25" width="6.45" height="9.85" fill="#ededed"/>
<rect x="266.35" y="441.25" width="6.45" height="9.85" fill="#e9e9e6"/>
<rect x="51.10" y="450.80" width="6.45" height="9.85" fill="#c5c3a9"/>
<rect x="57.25" y="450.80" width="6.45" height="9.85" fill="#dad9cc"/>
<rect x="63.40" y="450.80" width="6.45" height="9.85" fill="#e3e6ee"/>
<rect x="69.55" y="450.80" width="6.45" height="9.85" fill="#e1e0d8"/>
<rect x="75.70" y="450.80" width="6.45" height="9.85" fill="#e9e9e6"/>
<rect x="81.85" y="450.80" width="6.45" height="9.85" fill="#c6d1e1"/>
<rect x="88.00" y="450.80" width="6.45" height="9.85" fill="#f1f1f4"/>
<rect x="94.15" y="450.80" width="6.45" height="9.85" fill="#f1f1f4"/>
<rect x="100.30" y="450.80" width="6.45" height="9.85" fill="#aabbd3"/>
<rect x="106.45" y="450.80" width="6.45" height="9.85" fill="#aabbd3"/>
<rect x="112.60" y="450.80" width="6.45" height="9.85" fill="#cdd6e4"/>
<rect x="118.75" y="450.80" width="6.45" height="9.85" fill="#dad9cc"/>
<rect x="124.90" y="450.80" width="6.45" height="9.85" fill="#cdcbb6"/>
<rect x="131.05" y="450.80" width="6.45" height="9.85" fill="#aabbd3"/>
<rect x="137.20" y="450.80" width="6.45" height="9.85" fill="#f1f1f4"/>
<rect x="143.35" y="450.80" width="6.45" height="9.85" fill="#f1f1f4"/>
<rect x="149.50" y="450.80" width="6.45" height="9.85" fill="#aabbd3"/>
<rect x="155.65" y="450.80" width="6.45" height="9.85" fill="#aabbd3"/>
<rect x="161.80" y="450.80" width="6.45" height="9.85" fill="#d3d2c1"/>
<rect x="167.95" y="450.80" width="6.45" height="9.85" fill="#d3d2c1"/>
<rect x="174.10" y="450.80" width="6.45" height="9.85" fill="#e5e4df"/>
<rect x="180.25" y="450.80" width="6.45" height="9.85" fill="#cdd6e4"/>
<rect x="186.40" y="450.80" width="6.45" height="9.85" fill="#cdd6e4"/>
<rect x="192.55" y="450.80" width="6.45" height="9.85" fill="#dad9cc"/>
<rect x="198.70" y="450.80" width="6.45" height="9.85" fill="#c6d1e1"/>
<rect x="204.85" y="450.80" width="6.45" height="9.85" fill="#c6d1e1"/>
<rect x="211.00" y="450.80" width="6.45" height="9.85" fill="#cdcbb6"/>
<rect x="217.15" y="450.80" width="6.45" height="9.85" fill="#f1f1f4"/>
<rect x="223.30" y="450.80" width="6.45" height="9.85" fill="#dddcd1"/>
<rect x="229.45" y="450.80" width="6.45" height="9.85" fill="#c5c3a9"/>
<rect x="235.60" y="450.80" width="6.45" height="9.85" fill="#e9e9e6"/>
<rect x="241.75" y="450.80" width="6.45" height="9.85" fill="#cdcbb6"/>
<rect x="247.90" y="450.80" width="6.45" height="9.85" fill="#dad9cc"/>
<rect x="254.05" y="450.80" width="6.45" height="9.85" fill="#cdcbb6"/>
<rect x="260.20" y="450.80" width="6.45" height="9.85" fill="#dbe1ea"/>
<rect x="266.35" y="450.80" width="6.45" height="9.85" fill="#ededed"/>
<rect x="51.10" y="460.35" width="6.45" height="9.85" fill="#d3d2c1"/>
<rect x="57.25" y="460.35" width="6.45" height="9.85" fill="#dad9cc"/>
<rect x="63.40" y="460.35" width="6.45" height="9.85" fill="#f1f1f4"/>
<rect x="69.55" y="460.35" width="6.45" height="9.85" fill="#e1e0d8"/>
<rect x="75.70" y="460.35" width="6.45" height="9.85" fill="#e9e9e6"/>
<rect x="81.85" y="460.35" width="6.45" height="9.85" fill="#809bbd"/>
<rect x="88.00" y="460.35" width="6.45" height="9.85" fill="#f1f1f4"/>
<rect x="94.15" y="460.35" width="6.45" height="9.85" fill="#f1f1f4"/>
<rect x="100.30" y="460.35" width="6.45" height="9.85" fill="#809bbd"/>
<rect x="106.45" y="460.35" width="6.45" height="9.85" fill="#dbe1ea"/>
<rect x="112.60" y="460.35" width="6.45" height="9.85" fill="#f1f1f4"/>
<rect x="118.75" y="460.35" width="6.45" height="9.85" fill="#e5e4df"/>
<rect x="124.90" y="460.35" width="6.45" height="9.85" fill="#dddcd1"/>
<rect x="131.05" y="460.35" width="6.45" height="9.85" fill="#f1f1f4"/>
<rect x="137.20" y="460.35" width="6.45" height="9.85" fill="#dddcd1"/>
<rect x="143.35" y="460.35" width="6.45" height="9.85" fill="#aabbd3"/>
<rect x="149.50" y="460.35" width="6.45" height="9.85" fill="#aabbd3"/>
<rect x="155.65" y="460.35" width="6.45" height="9.85" fill="#809bbd"/>
<rect x="161.80" y="460.35" width="6.45" height="9.85" fill="#dddcd1"/>
<rect x="167.95" y="460.35" width="6.45" height="9.85" fill="#dddcd1"/>
<rect x="174.10" y="460.35" width="6.45" height="9.85" fill="#e9e9e6"/>
<rect x="180.25" y="460.35" width="6.45" height="9.85" fill="#ededed"/>
<rect x="186.40" y="460.35" width="6.45" height="9.85" fill="#ededed"/>
<rect x="192.55" y="460.35" width="6.45" height="9.85" fill="#dad9cc"/>
<rect x="198.70" y="460.35" width="6.45" height="9.85" fill="#f1f1f4"/>
<rect x="204.85" y="460.35" width="6.45" height="9.85" fill="#91a8c8"/>
<rect x="211.00" y="460.35" width="6.45" height="9.85" fill="#dddcd1"/>
<rect x="217.15" y="460.35" width="6.45" height="9.85" fill="#dddcd1"/>
<rect x="223.30" y="460.35" width="6.45" height="9.85" fill="#dad9cc"/>
<rect x="229.45" y="460.35" width="6.45" height="9.85" fill="#dad9cc"/>
<rect x="235.60" y="460.35" width="6.45" height="9.85" fill="#dad9cc"/>
<rect x="241.75" y="460.35" width="6.45" height="9.85" fill="#d3d2c1"/>
<rect x="247.90" y="460.35" width="6.45" height="9.85" fill="#dad9cc"/>
<rect x="254.05" y="460.35" width="6.45" height="9.85" fill="#cdcbb6"/>
<rect x="260.20" y="460.35" width="6.45" height="9.85" fill="#ededed"/>
<rect x="266.35" y="460.35" width="6.45" height="9.85" fill="#e1e0d8"/>
<rect x="51.1" y="252" width="67.65" height="6" fill="#104c8c"/>
<rect x="118.75" y="252" width="98.40" height="6" fill="#3ab33a"/>
<rect x="217.15" y="252" width="55.35" height="6" fill="#d20c2c"/>
<text transform="translate(276.50,255.00)" x="0" y="2.48" font-size="7.0" text-anchor="start" fill="#222" font-weight="normal">CMV_serostatus</text>
<text transform="translate(276.50,264.57)" x="0" y="2.48" font-size="7.0" text-anchor="start" fill="#222" font-weight="normal">CD56bright NK cells</text>
<text transform="translate(276.50,274.12)" x="0" y="2.48" font-size="7.0" text-anchor="start" fill="#222" font-weight="normal">NKG2A+ CD57− CD16+ CD56dim NK cells</text>
<text transform="translate(276.50,283.68)" x="0" y="2.48" font-size="7.0" text-anchor="start" fill="#222" font-weight="normal">CD8+ T cells</text>
<text transform="translate(276.50,293.23)" x="0" y="2.48" font-size="7.0" text-anchor="start" fill="#222" font-weight="normal">NKG2A+ GzmB+ CD56bright NK cells</text>
<text transform="translate(276.50,302.78)" x="0" y="2.48" font-size="7.0" text-anchor="start" fill="#222" font-weight="normal">GzmB+ NKG2C+ CD57+ CD56dim NK cells</text>
<text transform="translate(276.50,312.33)" x="0" y="2.48" font-size="7.0" text-anchor="start" fill="#222" font-weight="normal">GzmB+ NKG2A+ CD16+ CD56dim NK cells</text>
<text transform="translate(276.50,321.88)" x="0" y="2.48" font-size="7.0" text-anchor="start" fill="#222" font-weight="normal">GzmB+ CD57+ CD16+ CD56dim NK cells</text>
<text transform="translate(276.50,331.43)" x="0" y="2.48" font-size="7.0" text-anchor="start" fill="#222" font-weight="normal">GzmB+ CD56dim NK cells</text>
<text transform="translate(276.50,340.98)" x="0" y="2.48" font-size="7.0" text-anchor="start" fill="#222" font-weight="normal">Perforin+ CD56dim NK cells</text>
<text transform="translate(276.50,350.53)" x="0" y="2.48" font-size="7.0" text-anchor="start" fill="#222" font-weight="normal">KIR2DL2L3S2+ CD56+ NK cells</text>
<text transform="translate(276.50,360.08)" x="0" y="2.48" font-size="7.0" text-anchor="start" fill="#222" font-weight="normal">KIR2DL2L3S2+ NKG2C+ CD56dim NK cells</text>
<text transform="translate(276.50,369.62)" x="0" y="2.48" font-size="7.0" text-anchor="start" fill="#222" font-weight="normal">NKG2A− CD57+ CD16+ CD56dim NK cells</text>
<text transform="translate(276.50,379.18)" x="0" y="2.48" font-size="7.0" text-anchor="start" fill="#222" font-weight="normal">NKG2C+ CD56dim NK cells</text>
<text transform="translate(276.50,388.73)" x="0" y="2.48" font-size="7.0" text-anchor="start" fill="#222" font-weight="normal">NKG2C+ CD57+ CD56dim NK cells</text>
<text transform="translate(276.50,398.28)" x="0" y="2.48" font-size="7.0" text-anchor="start" fill="#222" font-weight="normal">CD56+ NK cells</text>
<text transform="translate(276.50,407.83)" x="0" y="2.48" font-size="7.0" text-anchor="start" fill="#222" font-weight="normal">CD16+ CD56− NK cells</text>
<text transform="translate(276.50,417.38)" x="0" y="2.48" font-size="7.0" text-anchor="start" fill="#222" font-weight="normal">FasL+ CD56dim NK cells</text>
<text transform="translate(276.50,426.93)" x="0" y="2.48" font-size="7.0" text-anchor="start" fill="#222" font-weight="normal">PD1+ CD56dim NK cells</text>
<text transform="translate(276.50,436.48)" x="0" y="2.48" font-size="7.0" text-anchor="start" fill="#222" font-weight="normal">GzmB+ CD56+ NK cells</text>
<text transform="translate(276.50,446.03)" x="0" y="2.48" font-size="7.0" text-anchor="start" fill="#222" font-weight="normal">CD16+ CD56dim NK cells</text>
<text transform="translate(276.50,455.58)" x="0" y="2.48" font-size="7.0" text-anchor="start" fill="#222" font-weight="normal">GzmB+ CD4+ T cells</text>
<text transform="translate(276.50,465.12)" x="0" y="2.48" font-size="7.0" text-anchor="start" fill="#222" font-weight="normal">GzmB+ CD8+ T cells</text>
<path d="M28.30,269.35 H15.30 V351.05 H22.00 M51.10,264.57 H28.30 V274.12 H51.10 M27.50,293.08 H22.00 V409.02 H23.20 M51.10,283.68 H27.50 V302.48 H29.90 M51.10,293.23 H29.90 V311.73 H34.60 M51.10,302.78 H34.60 V320.68 H40.00 M51.10,312.33 H40.00 V329.04 H40.60 M51.10,321.88 H40.60 V336.20 H50.20 M51.10,331.43 H50.20 V340.98 H51.10 M29.00,384.55 H23.20 V433.49 H27.00 M32.40,366.04 H29.00 V403.05 H30.90 M39.60,355.30 H32.40 V376.79 H36.30 M51.10,350.53 H39.60 V360.08 H51.10 M51.10,369.62 H36.30 V383.95 H46.30 M51.10,379.18 H46.30 V388.73 H51.10 M51.10,398.28 H30.90 V407.83 H51.10 M38.60,422.15 H27.00 V444.83 H32.40 M51.10,417.38 H38.60 V426.93 H51.10 M51.10,436.48 H32.40 V453.19 H33.00 M51.10,446.03 H33.00 V460.35 H40.20 M51.10,455.58 H40.20 V465.12 H51.10" fill="none" stroke="#6a6a6a" stroke-width="0.8"/>
<defs><linearGradient id="cb" x1="0" y1="0" x2="0" y2="1"><stop offset="0.000" stop-color="#20240e"/><stop offset="0.050" stop-color="#3a3c14"/><stop offset="0.106" stop-color="#5c5a1e"/><stop offset="0.162" stop-color="#757238"/><stop offset="0.218" stop-color="#8e8b52"/><stop offset="0.275" stop-color="#a4a174"/><stop offset="0.331" stop-color="#bab796"/><stop offset="0.387" stop-color="#cdcbb6"/><stop offset="0.444" stop-color="#dddcd1"/><stop offset="0.500" stop-color="#f1f1f4"/><stop offset="0.556" stop-color="#cdd6e4"/><stop offset="0.613" stop-color="#aabbd3"/><stop offset="0.669" stop-color="#91a8c8"/><stop offset="0.725" stop-color="#7492b6"/><stop offset="0.782" stop-color="#5181aa"/><stop offset="0.838" stop-color="#2d719f"/><stop offset="0.894" stop-color="#195884"/><stop offset="0.950" stop-color="#0e3a60"/><stop offset="1.000" stop-color="#0a2e4e"/></linearGradient></defs>
<rect x="428.7" y="251" width="6.5" height="101" fill="url(#cb)"/>
<text transform="translate(438.40,256.00)" x="0" y="2.48" font-size="7.0" text-anchor="start" fill="#222" font-weight="normal">4</text>
<text transform="translate(438.40,278.80)" x="0" y="2.48" font-size="7.0" text-anchor="start" fill="#222" font-weight="normal">2</text>
<text transform="translate(438.40,301.60)" x="0" y="2.48" font-size="7.0" text-anchor="start" fill="#222" font-weight="normal">0</text>
<text transform="translate(438.40,325.30)" x="0" y="2.48" font-size="7.0" text-anchor="start" fill="#222" font-weight="normal">−2</text>
<text transform="translate(438.40,348.00)" x="0" y="2.48" font-size="7.0" text-anchor="start" fill="#222" font-weight="normal">−4</text>
<text transform="translate(462.90,250.60)" x="0" y="2.38" font-size="6.7" text-anchor="start" fill="#222" font-weight="normal">CMV_serostatus</text>
<rect x="463" y="258" width="9.3" height="10" fill="#dc0a2a"/>
<rect x="463" y="268" width="9.3" height="9.5" fill="#0e4e8f"/>
<rect x="463" y="277.5" width="9.3" height="9.7" fill="#32b236"/>
<text transform="translate(476.00,262.80)" x="0" y="2.31" font-size="6.5" text-anchor="start" fill="#222" font-weight="normal">reactivation</text>
<text transform="translate(476.00,272.80)" x="0" y="2.31" font-size="6.5" text-anchor="start" fill="#222" font-weight="normal">seronegative</text>
<text transform="translate(476.00,282.30)" x="0" y="2.31" font-size="6.5" text-anchor="start" fill="#222" font-weight="normal">seropositive</text>
<line x1="60" y1="522.5" x2="60" y2="678" stroke="#151515" stroke-width="1.15"/>
<line x1="59.5" y1="677.5" x2="123.75" y2="677.5" stroke="#151515" stroke-width="1.15"/>
<text transform="translate(92.10,513.80)" x="0" y="3.05" font-size="8.6" text-anchor="middle" fill="#222" font-weight="normal">Seronegative</text>
<line x1="78.25" y1="677.5" x2="78.25" y2="681" stroke="#151515" stroke-width="0.8"/>
<text transform="translate(78.25,688.20)" x="0" y="2.48" font-size="7.0" text-anchor="middle" fill="#2a2a2a" font-weight="normal">t3</text>
<line x1="107" y1="677.5" x2="107" y2="681" stroke="#151515" stroke-width="0.8"/>
<text transform="translate(107.00,688.20)" x="0" y="2.48" font-size="7.0" text-anchor="middle" fill="#2a2a2a" font-weight="normal">t12</text>
<path d="M77.45,540.6 V537.8 H107.2 V540.6" fill="none" stroke="#333" stroke-width="0.9"/>
<text transform="translate(92.33,533.30)" x="0" y="2.24" font-size="6.3" text-anchor="middle" fill="#333" font-weight="normal">NS.</text>
<line x1="127.8" y1="522.5" x2="127.8" y2="678" stroke="#151515" stroke-width="1.15"/>
<line x1="127.3" y1="677.5" x2="190" y2="677.5" stroke="#151515" stroke-width="1.15"/>
<text transform="translate(160.00,513.80)" x="0" y="3.05" font-size="8.6" text-anchor="middle" fill="#222" font-weight="normal">Seropositive</text>
<line x1="146" y1="677.5" x2="146" y2="681" stroke="#151515" stroke-width="0.8"/>
<text transform="translate(146.00,688.20)" x="0" y="2.48" font-size="7.0" text-anchor="middle" fill="#2a2a2a" font-weight="normal">t3</text>
<line x1="174" y1="677.5" x2="174" y2="681" stroke="#151515" stroke-width="0.8"/>
<text transform="translate(174.00,688.20)" x="0" y="2.48" font-size="7.0" text-anchor="middle" fill="#2a2a2a" font-weight="normal">t12</text>
<path d="M145.2,540.6 V537.8 H174.2 V540.6" fill="none" stroke="#333" stroke-width="0.9"/>
<text transform="translate(159.70,533.30)" x="0" y="2.24" font-size="6.3" text-anchor="middle" fill="#333" font-weight="normal">NS.</text>
<line x1="195.6" y1="522.5" x2="195.6" y2="678" stroke="#151515" stroke-width="1.15"/>
<line x1="195.1" y1="677.5" x2="260" y2="677.5" stroke="#151515" stroke-width="1.15"/>
<text transform="translate(227.40,513.80)" x="0" y="3.05" font-size="8.6" text-anchor="middle" fill="#222" font-weight="normal">Reactivation</text>
<line x1="212.9" y1="677.5" x2="212.9" y2="681" stroke="#151515" stroke-width="0.8"/>
<text transform="translate(212.90,688.20)" x="0" y="2.48" font-size="7.0" text-anchor="middle" fill="#2a2a2a" font-weight="normal">t3</text>
<line x1="241.7" y1="677.5" x2="241.7" y2="681" stroke="#151515" stroke-width="0.8"/>
<text transform="translate(241.70,688.20)" x="0" y="2.48" font-size="7.0" text-anchor="middle" fill="#2a2a2a" font-weight="normal">t12</text>
<path d="M212.1,540.6 V537.8 H241.89999999999998 V540.6" fill="none" stroke="#333" stroke-width="0.9"/>
<text transform="translate(227.00,534.50)" x="0" y="2.24" font-size="6.3" text-anchor="middle" fill="#333" font-weight="normal">**</text>
<line x1="56.5" y1="670.50" x2="60" y2="670.50" stroke="#151515" stroke-width="0.8"/>
<text transform="translate(54.00,670.50)" x="0" y="2.56" font-size="7.2" text-anchor="end" fill="#2a2a2a" font-weight="normal">0</text>
<line x1="56.5" y1="624.90" x2="60" y2="624.90" stroke="#151515" stroke-width="0.8"/>
<text transform="translate(54.00,624.90)" x="0" y="2.56" font-size="7.2" text-anchor="end" fill="#2a2a2a" font-weight="normal">50000</text>
<line x1="56.5" y1="579.30" x2="60" y2="579.30" stroke="#151515" stroke-width="0.8"/>
<text transform="translate(54.00,579.30)" x="0" y="2.56" font-size="7.2" text-anchor="end" fill="#2a2a2a" font-weight="normal">100000</text>
<line x1="56.5" y1="533.70" x2="60" y2="533.70" stroke="#151515" stroke-width="0.8"/>
<text transform="translate(54.00,533.70)" x="0" y="2.56" font-size="7.2" text-anchor="end" fill="#2a2a2a" font-weight="normal">150000</text>
<text stroke="#1e1e1e" stroke-width="0.25" transform="translate(21.30,600.00) rotate(-90) scale(0.7556,1)" x="0" y="2.84" font-size="8.0" text-anchor="middle" fill="#1e1e1e" font-weight="normal">Granzyme B (MFI)</text>
<line x1="78.25" y1="605" x2="78.25" y2="622" stroke="#222" stroke-width="1"/>
<line x1="78.25" y1="640" x2="78.25" y2="645.5" stroke="#222" stroke-width="1"/>
<rect x="70.75" y="622" width="15.00" height="18.00" fill="none" stroke="#5a74ad" stroke-width="0.9"/>
<line x1="70.75" y1="632" x2="85.75" y2="632" stroke="#111" stroke-width="1.4"/>
<circle cx="79.77" cy="589.5" r="1.7" fill="#5a72b0" fill-opacity="0.75"/>
<circle cx="77.87" cy="605" r="1.7" fill="#5a72b0" fill-opacity="0.75"/>
<circle cx="79.33" cy="620" r="1.7" fill="#5a72b0" fill-opacity="0.75"/>
<circle cx="78.05" cy="622" r="1.7" fill="#5a72b0" fill-opacity="0.75"/>
<circle cx="79.82" cy="625" r="1.7" fill="#5a72b0" fill-opacity="0.75"/>
<circle cx="79.61" cy="627" r="1.7" fill="#5a72b0" fill-opacity="0.75"/>
<circle cx="76.80" cy="630" r="1.7" fill="#5a72b0" fill-opacity="0.75"/>
<circle cx="76.94" cy="632" r="1.7" fill="#5a72b0" fill-opacity="0.75"/>
<circle cx="77.23" cy="635" r="1.7" fill="#5a72b0" fill-opacity="0.75"/>
<circle cx="79.93" cy="638" r="1.7" fill="#5a72b0" fill-opacity="0.75"/>
<circle cx="78.02" cy="643" r="1.7" fill="#5a72b0" fill-opacity="0.75"/>
<circle cx="78.71" cy="646" r="1.7" fill="#5a72b0" fill-opacity="0.75"/>
<line x1="107" y1="621.3" x2="107" y2="630" stroke="#222" stroke-width="1"/>
<line x1="107" y1="647" x2="107" y2="653.8" stroke="#222" stroke-width="1"/>
<rect x="99.5" y="630" width="15.00" height="17.00" fill="none" stroke="#5a74ad" stroke-width="0.9"/>
<line x1="99.5" y1="640.5" x2="114.5" y2="640.5" stroke="#111" stroke-width="1.4"/>
<circle cx="106.28" cy="621.5" r="1.7" fill="#5a72b0" fill-opacity="0.75"/>
<circle cx="107.03" cy="627" r="1.7" fill="#5a72b0" fill-opacity="0.75"/>
<circle cx="106.59" cy="632" r="1.7" fill="#5a72b0" fill-opacity="0.75"/>
<circle cx="106.46" cy="636" r="1.7" fill="#5a72b0" fill-opacity="0.75"/>
<circle cx="107.31" cy="640" r="1.7" fill="#5a72b0" fill-opacity="0.75"/>
<circle cx="107.30" cy="645" r="1.7" fill="#5a72b0" fill-opacity="0.75"/>
<circle cx="108.46" cy="648" r="1.7" fill="#5a72b0" fill-opacity="0.75"/>
<circle cx="107.66" cy="650" r="1.7" fill="#5a72b0" fill-opacity="0.75"/>
<circle cx="108.54" cy="653.5" r="1.7" fill="#5a72b0" fill-opacity="0.75"/>
<line x1="146" y1="594.4" x2="146" y2="615.5" stroke="#222" stroke-width="1"/>
<line x1="146" y1="642.6" x2="146" y2="650" stroke="#222" stroke-width="1"/>
<rect x="137.9" y="615.5" width="14.40" height="27.10" fill="none" stroke="#6abf62" stroke-width="0.9"/>
<line x1="137.9" y1="634" x2="152.3" y2="634" stroke="#111" stroke-width="1.4"/>
<circle cx="147.28" cy="594.5" r="1.7" fill="#72c066" fill-opacity="0.75"/>
<circle cx="147.77" cy="600" r="1.7" fill="#72c066" fill-opacity="0.75"/>
<circle cx="146.62" cy="605" r="1.7" fill="#72c066" fill-opacity="0.75"/>
<circle cx="144.79" cy="610" r="1.7" fill="#72c066" fill-opacity="0.75"/>
<circle cx="147.30" cy="615" r="1.7" fill="#72c066" fill-opacity="0.75"/>
<circle cx="147.67" cy="620" r="1.7" fill="#72c066" fill-opacity="0.75"/>
<circle cx="147.46" cy="626" r="1.7" fill="#72c066" fill-opacity="0.75"/>
<circle cx="146.25" cy="630" r="1.7" fill="#72c066" fill-opacity="0.75"/>
<circle cx="146.77" cy="635" r="1.7" fill="#72c066" fill-opacity="0.75"/>
<circle cx="144.96" cy="640" r="1.7" fill="#72c066" fill-opacity="0.75"/>
<circle cx="147.19" cy="643" r="1.7" fill="#72c066" fill-opacity="0.75"/>
<circle cx="146.26" cy="646" r="1.7" fill="#72c066" fill-opacity="0.75"/>
<circle cx="145.23" cy="650" r="1.7" fill="#72c066" fill-opacity="0.75"/>
<line x1="174" y1="583" x2="174" y2="608.8" stroke="#222" stroke-width="1"/>
<line x1="174" y1="638.6" x2="174" y2="646" stroke="#222" stroke-width="1"/>
<rect x="166.7" y="608.8" width="14.70" height="29.80" fill="none" stroke="#6abf62" stroke-width="0.9"/>
<line x1="166.7" y1="624.7" x2="181.4" y2="624.7" stroke="#111" stroke-width="1.4"/>
<circle cx="172.43" cy="583" r="1.7" fill="#72c066" fill-opacity="0.75"/>
<circle cx="175.27" cy="588" r="1.7" fill="#72c066" fill-opacity="0.75"/>
<circle cx="175.76" cy="598" r="1.7" fill="#72c066" fill-opacity="0.75"/>
<circle cx="172.52" cy="603" r="1.7" fill="#72c066" fill-opacity="0.75"/>
<circle cx="175.08" cy="612" r="1.7" fill="#72c066" fill-opacity="0.75"/>
<circle cx="173.68" cy="618" r="1.7" fill="#72c066" fill-opacity="0.75"/>
<circle cx="172.74" cy="622" r="1.7" fill="#72c066" fill-opacity="0.75"/>
<circle cx="173.26" cy="628" r="1.7" fill="#72c066" fill-opacity="0.75"/>
<circle cx="174.97" cy="634" r="1.7" fill="#72c066" fill-opacity="0.75"/>
<circle cx="175.34" cy="640" r="1.7" fill="#72c066" fill-opacity="0.75"/>
<circle cx="172.36" cy="646" r="1.7" fill="#72c066" fill-opacity="0.75"/>
<line x1="212.9" y1="596.7" x2="212.9" y2="623.3" stroke="#222" stroke-width="1"/>
<line x1="212.9" y1="642.6" x2="212.9" y2="651.5" stroke="#222" stroke-width="1"/>
<rect x="205.7" y="623.3" width="14.70" height="19.30" fill="none" stroke="#d34a4a" stroke-width="0.9"/>
<line x1="205.7" y1="634.8" x2="220.4" y2="634.8" stroke="#111" stroke-width="1.4"/>
<circle cx="213.31" cy="596.7" r="1.7" fill="#d85a5a" fill-opacity="0.75"/>
<circle cx="211.26" cy="619" r="1.7" fill="#d85a5a" fill-opacity="0.75"/>
<circle cx="213.69" cy="623" r="1.7" fill="#d85a5a" fill-opacity="0.75"/>
<circle cx="212.29" cy="628" r="1.7" fill="#d85a5a" fill-opacity="0.75"/>
<circle cx="214.27" cy="632" r="1.7" fill="#d85a5a" fill-opacity="0.75"/>
<circle cx="214.63" cy="634" r="1.7" fill="#d85a5a" fill-opacity="0.75"/>
<circle cx="212.92" cy="638" r="1.7" fill="#d85a5a" fill-opacity="0.75"/>
<circle cx="214.69" cy="642" r="1.7" fill="#d85a5a" fill-opacity="0.75"/>
<circle cx="212.21" cy="646" r="1.7" fill="#d85a5a" fill-opacity="0.75"/>
<circle cx="211.38" cy="651" r="1.7" fill="#d85a5a" fill-opacity="0.75"/>
<line x1="241.7" y1="589.2" x2="241.7" y2="597.3" stroke="#222" stroke-width="1"/>
<line x1="241.7" y1="619.5" x2="241.7" y2="629" stroke="#222" stroke-width="1"/>
<rect x="234.5" y="597.3" width="14.70" height="22.20" fill="none" stroke="#d34a4a" stroke-width="0.9"/>
<line x1="234.5" y1="616.6" x2="249.2" y2="616.6" stroke="#111" stroke-width="1.4"/>
<circle cx="242.06" cy="543.4" r="1.7" fill="#d85a5a" fill-opacity="0.75"/>
<circle cx="240.01" cy="589.2" r="1.7" fill="#d85a5a" fill-opacity="0.75"/>
<circle cx="240.61" cy="595" r="1.7" fill="#d85a5a" fill-opacity="0.75"/>
<circle cx="241.37" cy="601" r="1.7" fill="#d85a5a" fill-opacity="0.75"/>
<circle cx="242.10" cy="614" r="1.7" fill="#d85a5a" fill-opacity="0.75"/>
<circle cx="240.46" cy="617" r="1.7" fill="#d85a5a" fill-opacity="0.75"/>
<circle cx="240.05" cy="623" r="1.7" fill="#d85a5a" fill-opacity="0.75"/>
<circle cx="243.02" cy="629" r="1.7" fill="#d85a5a" fill-opacity="0.75"/>
<line x1="312" y1="502" x2="312" y2="678" stroke="#151515" stroke-width="1.15"/>
<line x1="311.5" y1="677.5" x2="451" y2="677.5" stroke="#151515" stroke-width="1.15"/>
<line x1="308.6" y1="669.25" x2="312" y2="669.25" stroke="#151515" stroke-width="0.8"/>
<text transform="translate(304.90,669.25)" x="0" y="2.56" font-size="7.2" text-anchor="end" fill="#2a2a2a" font-weight="normal">0</text>
<line x1="308.6" y1="637.25" x2="312" y2="637.25" stroke="#151515" stroke-width="0.8"/>
<text transform="translate(304.90,637.25)" x="0" y="2.56" font-size="7.2" text-anchor="end" fill="#2a2a2a" font-weight="normal">10</text>
<line x1="308.6" y1="605.25" x2="312" y2="605.25" stroke="#151515" stroke-width="0.8"/>
<text transform="translate(304.90,605.25)" x="0" y="2.56" font-size="7.2" text-anchor="end" fill="#2a2a2a" font-weight="normal">20</text>
<line x1="308.6" y1="573.25" x2="312" y2="573.25" stroke="#151515" stroke-width="0.8"/>
<text transform="translate(304.90,573.25)" x="0" y="2.56" font-size="7.2" text-anchor="end" fill="#2a2a2a" font-weight="normal">30</text>
<line x1="308.6" y1="541.25" x2="312" y2="541.25" stroke="#151515" stroke-width="0.8"/>
<text transform="translate(304.90,541.25)" x="0" y="2.56" font-size="7.2" text-anchor="end" fill="#2a2a2a" font-weight="normal">40</text>
<line x1="308.6" y1="509.25" x2="312" y2="509.25" stroke="#151515" stroke-width="0.8"/>
<text transform="translate(304.90,509.25)" x="0" y="2.56" font-size="7.2" text-anchor="end" fill="#2a2a2a" font-weight="normal">50</text>
<line x1="336.25" y1="677.5" x2="336.25" y2="681" stroke="#151515" stroke-width="0.8"/>
<text transform="translate(336.25,688.20)" x="0" y="2.31" font-size="6.5" text-anchor="middle" fill="#333" font-weight="normal">seronegative</text>
<line x1="381.25" y1="677.5" x2="381.25" y2="681" stroke="#151515" stroke-width="0.8"/>
<text transform="translate(381.25,688.20)" x="0" y="2.31" font-size="6.5" text-anchor="middle" fill="#333" font-weight="normal">seropositive</text>
<line x1="425.8" y1="677.5" x2="425.8" y2="681" stroke="#151515" stroke-width="0.8"/>
<text transform="translate(425.80,688.20)" x="0" y="2.31" font-size="6.5" text-anchor="middle" fill="#333" font-weight="normal">reactivation</text>
<text stroke="#1e1e1e" stroke-width="0.25" transform="translate(288.20,589.10) rotate(-90) scale(0.751,1)" x="0" y="2.98" font-size="8.4" text-anchor="middle" fill="#1e1e1e" font-weight="normal">Proportion of CD107a+ CD56dim NK cells (%)</text>
<path d="M336.25,529.3 V526.6 H425.8 V529.3" fill="none" stroke="#333" stroke-width="0.9"/>
<path d="M336.25,541 V538.2 H381.3 V541" fill="none" stroke="#333" stroke-width="0.9"/>
<text transform="translate(381.30,523.80)" x="0" y="2.24" font-size="6.3" text-anchor="middle" fill="#333" font-weight="normal">***</text>
<text transform="translate(358.80,535.60)" x="0" y="2.24" font-size="6.3" text-anchor="middle" fill="#333" font-weight="normal">*</text>
<line x1="336.25" y1="611.6" x2="336.25" y2="623.75" stroke="#222" stroke-width="1"/>
<line x1="336.25" y1="650.75" x2="336.25" y2="650.75" stroke="#222" stroke-width="1"/>
<rect x="325.75" y="623.75" width="21.25" height="27.00" fill="none" stroke="#5a74ad" stroke-width="0.9"/>
<line x1="325.75" y1="643.75" x2="347" y2="643.75" stroke="#111" stroke-width="1.4"/>
<circle cx="335.51" cy="611.6" r="1.7" fill="#5a72b0" fill-opacity="0.75"/>
<circle cx="338.08" cy="624.4" r="1.7" fill="#5a72b0" fill-opacity="0.75"/>
<circle cx="337.84" cy="637.3" r="1.7" fill="#5a72b0" fill-opacity="0.75"/>
<circle cx="335.76" cy="650" r="1.7" fill="#5a72b0" fill-opacity="0.75"/>
<circle cx="336.09" cy="651.6" r="1.7" fill="#5a72b0" fill-opacity="0.75"/>
<line x1="381.25" y1="577.2" x2="381.25" y2="602.3" stroke="#222" stroke-width="1"/>
<line x1="381.25" y1="637.4" x2="381.25" y2="660.2" stroke="#222" stroke-width="1"/>
<rect x="371" y="602.3" width="20.30" height="35.10" fill="none" stroke="#6abf62" stroke-width="0.9"/>
<line x1="371" y1="623.6" x2="391.3" y2="623.6" stroke="#111" stroke-width="1.4"/>
<circle cx="381.33" cy="577.2" r="1.7" fill="#72c066" fill-opacity="0.75"/>
<circle cx="381.83" cy="581" r="1.7" fill="#72c066" fill-opacity="0.75"/>
<circle cx="381.63" cy="585" r="1.7" fill="#72c066" fill-opacity="0.75"/>
<circle cx="381.49" cy="590" r="1.7" fill="#72c066" fill-opacity="0.75"/>
<circle cx="381.73" cy="594" r="1.7" fill="#72c066" fill-opacity="0.75"/>
<circle cx="383.01" cy="598" r="1.7" fill="#72c066" fill-opacity="0.75"/>
<circle cx="381.28" cy="603" r="1.7" fill="#72c066" fill-opacity="0.75"/>
<circle cx="380.97" cy="608" r="1.7" fill="#72c066" fill-opacity="0.75"/>
<circle cx="382.13" cy="613" r="1.7" fill="#72c066" fill-opacity="0.75"/>
<circle cx="380.20" cy="616" r="1.7" fill="#72c066" fill-opacity="0.75"/>
<circle cx="380.45" cy="620" r="1.7" fill="#72c066" fill-opacity="0.75"/>
<circle cx="383.16" cy="622" r="1.7" fill="#72c066" fill-opacity="0.75"/>
<circle cx="381.33" cy="624" r="1.7" fill="#72c066" fill-opacity="0.75"/>
<circle cx="381.44" cy="627" r="1.7" fill="#72c066" fill-opacity="0.75"/>
<circle cx="379.30" cy="630" r="1.7" fill="#72c066" fill-opacity="0.75"/>
<circle cx="380.91" cy="634" r="1.7" fill="#72c066" fill-opacity="0.75"/>
<circle cx="381.57" cy="638" r="1.7" fill="#72c066" fill-opacity="0.75"/>
<circle cx="379.33" cy="641" r="1.7" fill="#72c066" fill-opacity="0.75"/>
<circle cx="381.71" cy="646" r="1.7" fill="#72c066" fill-opacity="0.75"/>
<circle cx="381.78" cy="650" r="1.7" fill="#72c066" fill-opacity="0.75"/>
<circle cx="379.49" cy="655" r="1.7" fill="#72c066" fill-opacity="0.75"/>
<circle cx="381.76" cy="660" r="1.7" fill="#72c066" fill-opacity="0.75"/>
<line x1="425.8" y1="581" x2="425.8" y2="590.3" stroke="#222" stroke-width="1"/>
<line x1="425.8" y1="607.9" x2="425.8" y2="614.8" stroke="#222" stroke-width="1"/>
<rect x="415.5" y="590.3" width="20.70" height="17.60" fill="none" stroke="#d34a4a" stroke-width="0.9"/>
<line x1="415.5" y1="599.7" x2="436.2" y2="599.7" stroke="#111" stroke-width="1.4"/>
<circle cx="425.67" cy="544.3" r="1.7" fill="#d85a5a" fill-opacity="0.75"/>
<circle cx="426.52" cy="581" r="1.7" fill="#d85a5a" fill-opacity="0.75"/>
<circle cx="425.21" cy="586" r="1.7" fill="#d85a5a" fill-opacity="0.75"/>
<circle cx="426.63" cy="594" r="1.7" fill="#d85a5a" fill-opacity="0.75"/>
<circle cx="426.75" cy="596" r="1.7" fill="#d85a5a" fill-opacity="0.75"/>
<circle cx="423.89" cy="601" r="1.7" fill="#d85a5a" fill-opacity="0.75"/>
<circle cx="424.04" cy="604" r="1.7" fill="#d85a5a" fill-opacity="0.75"/>
<circle cx="426.50" cy="610" r="1.7" fill="#d85a5a" fill-opacity="0.75"/>
<circle cx="427.65" cy="614.8" r="1.7" fill="#d85a5a" fill-opacity="0.75"/>
<circle cx="424.80" cy="634.2" r="1.7" fill="#d85a5a" fill-opacity="0.75"/>
<circle cx="425.63" cy="639" r="1.7" fill="#d85a5a" fill-opacity="0.75"/>
<rect x="0" y="0" width="520" height="1.05" fill="#525252"/><rect x="0" y="0" width="1.15" height="699" fill="#525252"/><rect x="518.75" y="0" width="1.25" height="699" fill="#525252"/><rect x="0" y="697.5" width="520" height="1.5" fill="#525252"/>
</svg></body></html>
